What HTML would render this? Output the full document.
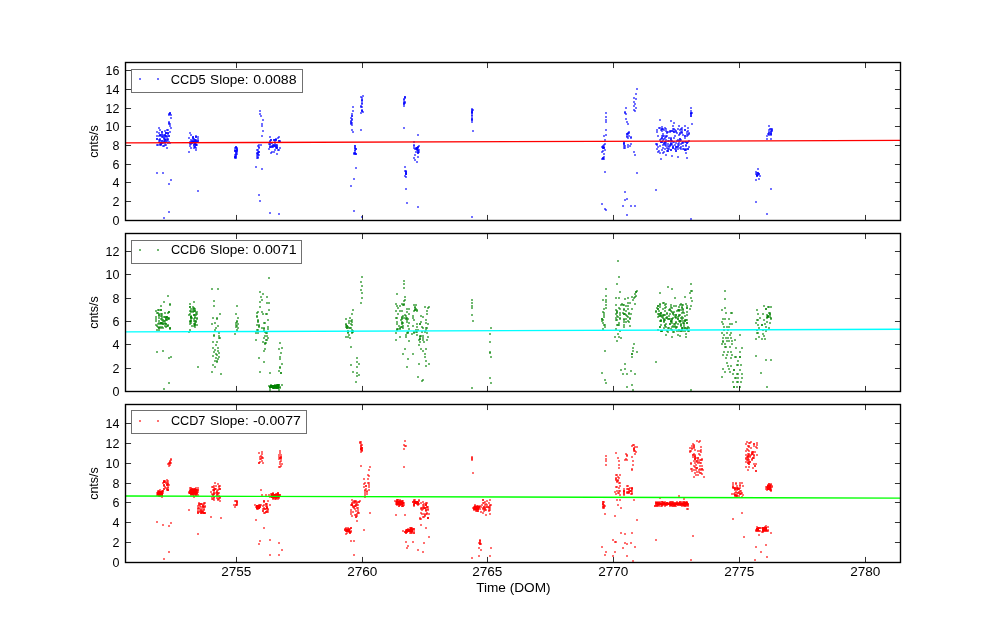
<!DOCTYPE html><html><head><meta charset="utf-8"><style>html,body{margin:0;padding:0;background:#fff;}svg{display:block;will-change:transform}text{font-family:"Liberation Sans",sans-serif;fill:#000}</style></head><body>
<svg width="1000" height="624" viewBox="0 0 1000 624">
<rect x="0" y="0" width="1000" height="624" fill="#fff"/>
<g fill="#0000ff" fill-opacity="0.56"><rect x="169" y="112" width="2" height="2"/><rect x="169" y="113" width="2" height="2"/><rect x="170" y="117" width="2" height="2"/><rect x="168" y="121" width="2" height="2"/><rect x="169" y="123" width="2" height="2"/><rect x="169" y="125" width="2" height="2"/><rect x="170" y="127" width="2" height="2"/><rect x="167" y="129" width="2" height="2"/><rect x="166" y="129" width="2" height="2"/><rect x="158" y="127" width="2" height="2"/><rect x="159" y="129" width="2" height="2"/><rect x="156" y="131" width="2" height="2"/><rect x="161" y="131" width="2" height="2"/><rect x="164" y="130" width="2" height="2"/><rect x="166" y="147" width="2" height="2"/><rect x="159" y="144" width="2" height="2"/><rect x="160" y="143" width="2" height="2"/><rect x="156" y="172" width="2" height="2"/><rect x="162" y="172" width="2" height="2"/><rect x="170" y="179" width="2" height="2"/><rect x="168" y="183" width="2" height="2"/><rect x="197" y="190" width="2" height="2"/><rect x="168" y="211" width="2" height="2"/><rect x="163" y="217" width="2" height="2"/><rect x="189" y="132" width="2" height="2"/><rect x="190" y="134" width="2" height="2"/><rect x="192" y="136" width="2" height="2"/><rect x="195" y="135" width="2" height="2"/><rect x="193" y="147" width="2" height="2"/><rect x="195" y="149" width="2" height="2"/><rect x="188" y="151" width="2" height="2"/><rect x="190" y="147" width="2" height="2"/><rect x="235" y="146" width="2" height="2"/><rect x="236" y="148" width="2" height="2"/><rect x="235" y="150" width="2" height="2"/><rect x="235" y="152" width="2" height="2"/><rect x="235" y="154" width="2" height="2"/><rect x="234" y="157" width="2" height="2"/><rect x="235" y="147" width="2" height="2"/><rect x="236" y="149" width="2" height="2"/><rect x="235" y="151" width="2" height="2"/><rect x="235" y="153" width="2" height="2"/><rect x="235" y="155" width="2" height="2"/><rect x="234" y="156" width="2" height="2"/><rect x="259" y="110" width="2" height="2"/><rect x="259" y="113" width="2" height="2"/><rect x="260" y="115" width="2" height="2"/><rect x="262" y="119" width="2" height="2"/><rect x="261" y="123" width="2" height="2"/><rect x="261" y="125" width="2" height="2"/><rect x="262" y="130" width="2" height="2"/><rect x="261" y="135" width="2" height="2"/><rect x="258" y="144" width="2" height="2"/><rect x="260" y="144" width="2" height="2"/><rect x="257" y="145" width="2" height="2"/><rect x="257" y="149" width="2" height="2"/><rect x="257" y="151" width="2" height="2"/><rect x="256" y="153" width="2" height="2"/><rect x="257" y="154" width="2" height="2"/><rect x="258" y="154" width="2" height="2"/><rect x="257" y="156" width="2" height="2"/><rect x="256" y="157" width="2" height="2"/><rect x="255" y="166" width="2" height="2"/><rect x="261" y="168" width="2" height="2"/><rect x="258" y="194" width="2" height="2"/><rect x="259" y="200" width="2" height="2"/><rect x="269" y="212" width="2" height="2"/><rect x="278" y="213" width="2" height="2"/><rect x="271" y="151" width="2" height="2"/><rect x="276" y="153" width="2" height="2"/><rect x="278" y="149" width="2" height="2"/><rect x="352" y="106" width="2" height="2"/><rect x="352" y="110" width="2" height="2"/><rect x="351" y="113" width="2" height="2"/><rect x="351" y="115" width="2" height="2"/><rect x="351" y="118" width="2" height="2"/><rect x="350" y="120" width="2" height="2"/><rect x="351" y="122" width="2" height="2"/><rect x="351" y="124" width="2" height="2"/><rect x="351" y="129" width="2" height="2"/><rect x="352" y="131" width="2" height="2"/><rect x="362" y="95" width="2" height="2"/><rect x="360" y="96" width="2" height="2"/><rect x="361" y="99" width="2" height="2"/><rect x="361" y="102" width="2" height="2"/><rect x="360" y="106" width="2" height="2"/><rect x="361" y="109" width="2" height="2"/><rect x="362" y="111" width="2" height="2"/><rect x="360" y="112" width="2" height="2"/><rect x="360" y="129" width="2" height="2"/><rect x="354" y="145" width="2" height="2"/><rect x="355" y="148" width="2" height="2"/><rect x="354" y="150" width="2" height="2"/><rect x="353" y="152" width="2" height="2"/><rect x="353" y="153" width="2" height="2"/><rect x="355" y="167" width="2" height="2"/><rect x="353" y="178" width="2" height="2"/><rect x="350" y="185" width="2" height="2"/><rect x="353" y="210" width="2" height="2"/><rect x="361" y="216" width="2" height="2"/><rect x="404" y="96" width="2" height="2"/><rect x="403" y="102" width="2" height="2"/><rect x="403" y="103" width="2" height="2"/><rect x="403" y="105" width="2" height="2"/><rect x="403" y="127" width="2" height="2"/><rect x="417" y="134" width="2" height="2"/><rect x="413" y="141" width="2" height="2"/><rect x="413" y="144" width="2" height="2"/><rect x="414" y="154" width="2" height="2"/><rect x="417" y="156" width="2" height="2"/><rect x="413" y="157" width="2" height="2"/><rect x="414" y="159" width="2" height="2"/><rect x="416" y="161" width="2" height="2"/><rect x="404" y="166" width="2" height="2"/><rect x="405" y="171" width="2" height="2"/><rect x="405" y="173" width="2" height="2"/><rect x="405" y="176" width="2" height="2"/><rect x="404" y="175" width="2" height="2"/><rect x="405" y="188" width="2" height="2"/><rect x="406" y="202" width="2" height="2"/><rect x="417" y="206" width="2" height="2"/><rect x="471" y="108" width="2" height="2"/><rect x="471" y="111" width="2" height="2"/><rect x="471" y="112" width="2" height="2"/><rect x="471" y="115" width="2" height="2"/><rect x="471" y="117" width="2" height="2"/><rect x="471" y="119" width="2" height="2"/><rect x="471" y="121" width="2" height="2"/><rect x="472" y="130" width="2" height="2"/><rect x="471" y="216" width="2" height="2"/><rect x="605" y="112" width="2" height="2"/><rect x="605" y="116" width="2" height="2"/><rect x="605" y="119" width="2" height="2"/><rect x="605" y="121" width="2" height="2"/><rect x="605" y="129" width="2" height="2"/><rect x="605" y="134" width="2" height="2"/><rect x="603" y="135" width="2" height="2"/><rect x="604" y="139" width="2" height="2"/><rect x="603" y="144" width="2" height="2"/><rect x="604" y="143" width="2" height="2"/><rect x="602" y="145" width="2" height="2"/><rect x="603" y="147" width="2" height="2"/><rect x="601" y="151" width="2" height="2"/><rect x="602" y="150" width="2" height="2"/><rect x="603" y="153" width="2" height="2"/><rect x="603" y="156" width="2" height="2"/><rect x="602" y="158" width="2" height="2"/><rect x="601" y="158" width="2" height="2"/><rect x="604" y="171" width="2" height="2"/><rect x="601" y="203" width="2" height="2"/><rect x="604" y="208" width="2" height="2"/><rect x="605" y="209" width="2" height="2"/><rect x="625" y="107" width="2" height="2"/><rect x="624" y="111" width="2" height="2"/><rect x="624" y="112" width="2" height="2"/><rect x="625" y="113" width="2" height="2"/><rect x="625" y="118" width="2" height="2"/><rect x="626" y="121" width="2" height="2"/><rect x="627" y="123" width="2" height="2"/><rect x="623" y="142" width="2" height="2"/><rect x="623" y="143" width="2" height="2"/><rect x="623" y="147" width="2" height="2"/><rect x="627" y="144" width="2" height="2"/><rect x="627" y="146" width="2" height="2"/><rect x="629" y="145" width="2" height="2"/><rect x="630" y="143" width="2" height="2"/><rect x="633" y="151" width="2" height="2"/><rect x="634" y="154" width="2" height="2"/><rect x="636" y="172" width="2" height="2"/><rect x="624" y="191" width="2" height="2"/><rect x="624" y="199" width="2" height="2"/><rect x="626" y="198" width="2" height="2"/><rect x="622" y="205" width="2" height="2"/><rect x="630" y="205" width="2" height="2"/><rect x="634" y="205" width="2" height="2"/><rect x="626" y="214" width="2" height="2"/><rect x="636" y="88" width="2" height="2"/><rect x="635" y="93" width="2" height="2"/><rect x="633" y="97" width="2" height="2"/><rect x="635" y="98" width="2" height="2"/><rect x="633" y="101" width="2" height="2"/><rect x="634" y="103" width="2" height="2"/><rect x="633" y="105" width="2" height="2"/><rect x="635" y="107" width="2" height="2"/><rect x="633" y="109" width="2" height="2"/><rect x="634" y="110" width="2" height="2"/><rect x="659" y="119" width="2" height="2"/><rect x="670" y="120" width="2" height="2"/><rect x="673" y="122" width="2" height="2"/><rect x="672" y="125" width="2" height="2"/><rect x="678" y="125" width="2" height="2"/><rect x="684" y="125" width="2" height="2"/><rect x="660" y="158" width="2" height="2"/><rect x="665" y="154" width="2" height="2"/><rect x="671" y="155" width="2" height="2"/><rect x="677" y="156" width="2" height="2"/><rect x="686" y="157" width="2" height="2"/><rect x="655" y="189" width="2" height="2"/><rect x="690" y="218" width="2" height="2"/><rect x="690" y="107" width="2" height="2"/><rect x="690" y="110" width="2" height="2"/><rect x="691" y="112" width="2" height="2"/><rect x="690" y="115" width="2" height="2"/><rect x="691" y="123" width="2" height="2"/><rect x="768" y="125" width="2" height="2"/><rect x="766" y="135" width="2" height="2"/><rect x="766" y="138" width="2" height="2"/><rect x="770" y="138" width="2" height="2"/><rect x="757" y="168" width="2" height="2"/><rect x="755" y="179" width="2" height="2"/><rect x="758" y="178" width="2" height="2"/><rect x="770" y="188" width="2" height="2"/><rect x="755" y="201" width="2" height="2"/><rect x="766" y="213" width="2" height="2"/><rect x="234" y="150" width="2" height="2"/><rect x="236" y="153" width="2" height="2"/><rect x="236" y="150" width="2" height="2"/><rect x="236" y="151" width="2" height="2"/><rect x="234" y="150" width="2" height="2"/><rect x="234" y="156" width="2" height="2"/><rect x="236" y="149" width="2" height="2"/><rect x="234" y="154" width="2" height="2"/><rect x="234" y="147" width="2" height="2"/><rect x="234" y="149" width="2" height="2"/><rect x="235" y="157" width="2" height="2"/><rect x="234" y="156" width="2" height="2"/><rect x="235" y="156" width="2" height="2"/><rect x="236" y="147" width="2" height="2"/><rect x="235" y="146" width="2" height="2"/><rect x="256" y="149" width="2" height="2"/><rect x="258" y="151" width="2" height="2"/><rect x="256" y="155" width="2" height="2"/><rect x="258" y="147" width="2" height="2"/><rect x="257" y="152" width="2" height="2"/><rect x="258" y="146" width="2" height="2"/><rect x="257" y="157" width="2" height="2"/><rect x="257" y="153" width="2" height="2"/><rect x="258" y="151" width="2" height="2"/><rect x="256" y="152" width="2" height="2"/><rect x="354" y="147" width="2" height="2"/><rect x="355" y="148" width="2" height="2"/><rect x="354" y="152" width="2" height="2"/><rect x="355" y="153" width="2" height="2"/><rect x="354" y="147" width="2" height="2"/><rect x="355" y="153" width="2" height="2"/><rect x="354" y="152" width="2" height="2"/><rect x="354" y="149" width="2" height="2"/><rect x="354" y="145" width="2" height="2"/><rect x="354" y="153" width="2" height="2"/><rect x="403" y="103" width="2" height="2"/><rect x="404" y="97" width="2" height="2"/><rect x="403" y="101" width="2" height="2"/><rect x="403" y="99" width="2" height="2"/><rect x="404" y="102" width="2" height="2"/><rect x="404" y="101" width="2" height="2"/><rect x="404" y="96" width="2" height="2"/><rect x="403" y="98" width="2" height="2"/><rect x="405" y="173" width="2" height="2"/><rect x="404" y="170" width="2" height="2"/><rect x="405" y="170" width="2" height="2"/><rect x="405" y="172" width="2" height="2"/><rect x="405" y="171" width="2" height="2"/><rect x="405" y="173" width="2" height="2"/><rect x="471" y="118" width="2" height="2"/><rect x="472" y="109" width="2" height="2"/><rect x="471" y="111" width="2" height="2"/><rect x="471" y="110" width="2" height="2"/><rect x="471" y="109" width="2" height="2"/><rect x="471" y="119" width="2" height="2"/><rect x="471" y="114" width="2" height="2"/><rect x="471" y="112" width="2" height="2"/><rect x="602" y="146" width="2" height="2"/><rect x="603" y="147" width="2" height="2"/><rect x="601" y="146" width="2" height="2"/><rect x="602" y="157" width="2" height="2"/><rect x="603" y="158" width="2" height="2"/><rect x="602" y="147" width="2" height="2"/><rect x="603" y="146" width="2" height="2"/><rect x="604" y="149" width="2" height="2"/><rect x="602" y="147" width="2" height="2"/><rect x="602" y="157" width="2" height="2"/><rect x="624" y="145" width="2" height="2"/><rect x="623" y="141" width="2" height="2"/><rect x="623" y="143" width="2" height="2"/><rect x="623" y="145" width="2" height="2"/><rect x="624" y="147" width="2" height="2"/><rect x="690" y="112" width="2" height="2"/><rect x="690" y="113" width="2" height="2"/><rect x="690" y="115" width="2" height="2"/><rect x="690" y="112" width="2" height="2"/><rect x="690" y="113" width="2" height="2"/><rect x="350" y="123" width="2" height="2"/><rect x="350" y="121" width="2" height="2"/><rect x="351" y="119" width="2" height="2"/><rect x="350" y="117" width="2" height="2"/><rect x="351" y="115" width="2" height="2"/><rect x="350" y="122" width="2" height="2"/><rect x="361" y="100" width="2" height="2"/><rect x="361" y="106" width="2" height="2"/><rect x="360" y="105" width="2" height="2"/><rect x="361" y="97" width="2" height="2"/><rect x="361" y="110" width="2" height="2"/><rect x="361" y="99" width="2" height="2"/><rect x="361" y="103" width="2" height="2"/><rect x="361" y="110" width="2" height="2"/><rect x="168" y="113" width="2" height="2"/><rect x="169" y="112" width="2" height="2"/><rect x="168" y="114" width="2" height="2"/><rect x="168" y="123" width="2" height="2"/><rect x="168" y="122" width="2" height="2"/><rect x="170" y="114" width="2" height="2"/><rect x="770" y="132" width="2" height="2"/><rect x="768" y="134" width="2" height="2"/><rect x="770" y="130" width="2" height="2"/><rect x="771" y="129" width="2" height="2"/><rect x="770" y="133" width="2" height="2"/><rect x="767" y="133" width="2" height="2"/><rect x="770" y="133" width="2" height="2"/><rect x="768" y="132" width="2" height="2"/><rect x="758" y="173" width="2" height="2"/><rect x="755" y="171" width="2" height="2"/><rect x="757" y="174" width="2" height="2"/><rect x="756" y="174" width="2" height="2"/><rect x="755" y="173" width="2" height="2"/><rect x="757" y="172" width="2" height="2"/><rect x="157" y="144" width="2" height="2"/><rect x="167" y="139" width="2" height="2"/><rect x="156" y="138" width="2" height="2"/><rect x="169" y="142" width="2" height="2"/><rect x="165" y="132" width="2" height="2"/><rect x="164" y="134" width="2" height="2"/><rect x="169" y="131" width="2" height="2"/><rect x="159" y="143" width="2" height="2"/><rect x="158" y="135" width="2" height="2"/><rect x="160" y="143" width="2" height="2"/><rect x="165" y="144" width="2" height="2"/><rect x="158" y="132" width="2" height="2"/><rect x="160" y="142" width="2" height="2"/><rect x="164" y="144" width="2" height="2"/><rect x="165" y="132" width="2" height="2"/><rect x="160" y="134" width="2" height="2"/><rect x="159" y="140" width="2" height="2"/><rect x="162" y="142" width="2" height="2"/><rect x="156" y="144" width="2" height="2"/><rect x="158" y="141" width="2" height="2"/><rect x="167" y="132" width="2" height="2"/><rect x="163" y="145" width="2" height="2"/><rect x="156" y="138" width="2" height="2"/><rect x="162" y="136" width="2" height="2"/><rect x="159" y="134" width="2" height="2"/><rect x="159" y="134" width="2" height="2"/><rect x="160" y="144" width="2" height="2"/><rect x="168" y="135" width="2" height="2"/><rect x="156" y="135" width="2" height="2"/><rect x="167" y="133" width="2" height="2"/><rect x="165" y="132" width="2" height="2"/><rect x="161" y="133" width="2" height="2"/><rect x="164" y="136" width="2" height="2"/><rect x="166" y="138" width="2" height="2"/><rect x="161" y="131" width="2" height="2"/><rect x="167" y="132" width="2" height="2"/><rect x="162" y="145" width="2" height="2"/><rect x="166" y="136" width="2" height="2"/><rect x="168" y="135" width="2" height="2"/><rect x="164" y="139" width="2" height="2"/><rect x="165" y="135" width="2" height="2"/><rect x="161" y="136" width="2" height="2"/><rect x="168" y="141" width="2" height="2"/><rect x="160" y="142" width="2" height="2"/><rect x="164" y="134" width="2" height="2"/><rect x="162" y="135" width="2" height="2"/><rect x="160" y="135" width="2" height="2"/><rect x="159" y="139" width="2" height="2"/><rect x="165" y="141" width="2" height="2"/><rect x="160" y="142" width="2" height="2"/><rect x="161" y="140" width="2" height="2"/><rect x="163" y="138" width="2" height="2"/><rect x="164" y="141" width="2" height="2"/><rect x="164" y="138" width="2" height="2"/><rect x="166" y="140" width="2" height="2"/><rect x="161" y="142" width="2" height="2"/><rect x="162" y="134" width="2" height="2"/><rect x="167" y="142" width="2" height="2"/><rect x="163" y="140" width="2" height="2"/><rect x="164" y="135" width="2" height="2"/><rect x="165" y="139" width="2" height="2"/><rect x="167" y="138" width="2" height="2"/><rect x="161" y="140" width="2" height="2"/><rect x="163" y="141" width="2" height="2"/><rect x="158" y="139" width="2" height="2"/><rect x="166" y="135" width="2" height="2"/><rect x="159" y="138" width="2" height="2"/><rect x="164" y="139" width="2" height="2"/><rect x="163" y="137" width="2" height="2"/><rect x="164" y="142" width="2" height="2"/><rect x="193" y="140" width="2" height="2"/><rect x="197" y="138" width="2" height="2"/><rect x="193" y="145" width="2" height="2"/><rect x="195" y="144" width="2" height="2"/><rect x="194" y="141" width="2" height="2"/><rect x="197" y="136" width="2" height="2"/><rect x="192" y="141" width="2" height="2"/><rect x="194" y="139" width="2" height="2"/><rect x="190" y="141" width="2" height="2"/><rect x="194" y="142" width="2" height="2"/><rect x="196" y="141" width="2" height="2"/><rect x="190" y="143" width="2" height="2"/><rect x="192" y="136" width="2" height="2"/><rect x="192" y="137" width="2" height="2"/><rect x="194" y="146" width="2" height="2"/><rect x="195" y="147" width="2" height="2"/><rect x="189" y="145" width="2" height="2"/><rect x="195" y="139" width="2" height="2"/><rect x="192" y="138" width="2" height="2"/><rect x="191" y="142" width="2" height="2"/><rect x="191" y="140" width="2" height="2"/><rect x="194" y="143" width="2" height="2"/><rect x="189" y="142" width="2" height="2"/><rect x="195" y="136" width="2" height="2"/><rect x="195" y="136" width="2" height="2"/><rect x="192" y="140" width="2" height="2"/><rect x="188" y="137" width="2" height="2"/><rect x="194" y="139" width="2" height="2"/><rect x="193" y="138" width="2" height="2"/><rect x="194" y="146" width="2" height="2"/><rect x="195" y="140" width="2" height="2"/><rect x="197" y="140" width="2" height="2"/><rect x="191" y="141" width="2" height="2"/><rect x="197" y="140" width="2" height="2"/><rect x="191" y="142" width="2" height="2"/><rect x="193" y="143" width="2" height="2"/><rect x="194" y="143" width="2" height="2"/><rect x="192" y="141" width="2" height="2"/><rect x="196" y="141" width="2" height="2"/><rect x="194" y="141" width="2" height="2"/><rect x="189" y="141" width="2" height="2"/><rect x="193" y="141" width="2" height="2"/><rect x="190" y="139" width="2" height="2"/><rect x="189" y="143" width="2" height="2"/><rect x="193" y="144" width="2" height="2"/><rect x="195" y="143" width="2" height="2"/><rect x="195" y="144" width="2" height="2"/><rect x="195" y="144" width="2" height="2"/><rect x="195" y="140" width="2" height="2"/><rect x="196" y="144" width="2" height="2"/><rect x="277" y="149" width="2" height="2"/><rect x="276" y="145" width="2" height="2"/><rect x="273" y="151" width="2" height="2"/><rect x="270" y="146" width="2" height="2"/><rect x="278" y="140" width="2" height="2"/><rect x="269" y="140" width="2" height="2"/><rect x="272" y="144" width="2" height="2"/><rect x="270" y="139" width="2" height="2"/><rect x="269" y="143" width="2" height="2"/><rect x="269" y="141" width="2" height="2"/><rect x="269" y="146" width="2" height="2"/><rect x="274" y="139" width="2" height="2"/><rect x="279" y="140" width="2" height="2"/><rect x="278" y="140" width="2" height="2"/><rect x="274" y="145" width="2" height="2"/><rect x="274" y="141" width="2" height="2"/><rect x="276" y="146" width="2" height="2"/><rect x="274" y="143" width="2" height="2"/><rect x="270" y="142" width="2" height="2"/><rect x="276" y="147" width="2" height="2"/><rect x="279" y="147" width="2" height="2"/><rect x="279" y="141" width="2" height="2"/><rect x="270" y="152" width="2" height="2"/><rect x="272" y="145" width="2" height="2"/><rect x="277" y="137" width="2" height="2"/><rect x="268" y="143" width="2" height="2"/><rect x="269" y="136" width="2" height="2"/><rect x="276" y="144" width="2" height="2"/><rect x="272" y="146" width="2" height="2"/><rect x="271" y="142" width="2" height="2"/><rect x="271" y="146" width="2" height="2"/><rect x="273" y="145" width="2" height="2"/><rect x="274" y="145" width="2" height="2"/><rect x="268" y="148" width="2" height="2"/><rect x="278" y="136" width="2" height="2"/><rect x="275" y="144" width="2" height="2"/><rect x="275" y="138" width="2" height="2"/><rect x="269" y="144" width="2" height="2"/><rect x="273" y="139" width="2" height="2"/><rect x="275" y="139" width="2" height="2"/><rect x="276" y="147" width="2" height="2"/><rect x="275" y="147" width="2" height="2"/><rect x="271" y="145" width="2" height="2"/><rect x="269" y="146" width="2" height="2"/><rect x="270" y="139" width="2" height="2"/><rect x="275" y="139" width="2" height="2"/><rect x="274" y="149" width="2" height="2"/><rect x="273" y="144" width="2" height="2"/><rect x="275" y="146" width="2" height="2"/><rect x="273" y="139" width="2" height="2"/><rect x="630" y="136" width="2" height="2"/><rect x="628" y="135" width="2" height="2"/><rect x="627" y="132" width="2" height="2"/><rect x="626" y="133" width="2" height="2"/><rect x="628" y="131" width="2" height="2"/><rect x="627" y="133" width="2" height="2"/><rect x="626" y="136" width="2" height="2"/><rect x="627" y="137" width="2" height="2"/><rect x="628" y="132" width="2" height="2"/><rect x="626" y="135" width="2" height="2"/><rect x="626" y="133" width="2" height="2"/><rect x="630" y="137" width="2" height="2"/><rect x="678" y="142" width="2" height="2"/><rect x="675" y="146" width="2" height="2"/><rect x="684" y="129" width="2" height="2"/><rect x="685" y="152" width="2" height="2"/><rect x="674" y="135" width="2" height="2"/><rect x="657" y="135" width="2" height="2"/><rect x="656" y="144" width="2" height="2"/><rect x="675" y="146" width="2" height="2"/><rect x="684" y="135" width="2" height="2"/><rect x="680" y="146" width="2" height="2"/><rect x="673" y="128" width="2" height="2"/><rect x="684" y="141" width="2" height="2"/><rect x="670" y="149" width="2" height="2"/><rect x="659" y="127" width="2" height="2"/><rect x="677" y="145" width="2" height="2"/><rect x="672" y="141" width="2" height="2"/><rect x="680" y="148" width="2" height="2"/><rect x="676" y="146" width="2" height="2"/><rect x="672" y="130" width="2" height="2"/><rect x="681" y="127" width="2" height="2"/><rect x="661" y="141" width="2" height="2"/><rect x="667" y="150" width="2" height="2"/><rect x="665" y="139" width="2" height="2"/><rect x="661" y="149" width="2" height="2"/><rect x="667" y="145" width="2" height="2"/><rect x="679" y="138" width="2" height="2"/><rect x="659" y="152" width="2" height="2"/><rect x="656" y="148" width="2" height="2"/><rect x="660" y="138" width="2" height="2"/><rect x="670" y="137" width="2" height="2"/><rect x="674" y="144" width="2" height="2"/><rect x="677" y="128" width="2" height="2"/><rect x="667" y="131" width="2" height="2"/><rect x="687" y="141" width="2" height="2"/><rect x="688" y="132" width="2" height="2"/><rect x="678" y="140" width="2" height="2"/><rect x="666" y="131" width="2" height="2"/><rect x="675" y="150" width="2" height="2"/><rect x="671" y="140" width="2" height="2"/><rect x="686" y="133" width="2" height="2"/><rect x="667" y="150" width="2" height="2"/><rect x="658" y="127" width="2" height="2"/><rect x="677" y="139" width="2" height="2"/><rect x="685" y="141" width="2" height="2"/><rect x="664" y="144" width="2" height="2"/><rect x="670" y="143" width="2" height="2"/><rect x="662" y="128" width="2" height="2"/><rect x="685" y="149" width="2" height="2"/><rect x="660" y="129" width="2" height="2"/><rect x="682" y="145" width="2" height="2"/><rect x="670" y="149" width="2" height="2"/><rect x="682" y="148" width="2" height="2"/><rect x="685" y="148" width="2" height="2"/><rect x="655" y="143" width="2" height="2"/><rect x="658" y="150" width="2" height="2"/><rect x="682" y="142" width="2" height="2"/><rect x="669" y="145" width="2" height="2"/><rect x="665" y="145" width="2" height="2"/><rect x="687" y="127" width="2" height="2"/><rect x="668" y="148" width="2" height="2"/><rect x="661" y="135" width="2" height="2"/><rect x="682" y="141" width="2" height="2"/><rect x="664" y="137" width="2" height="2"/><rect x="667" y="140" width="2" height="2"/><rect x="688" y="133" width="2" height="2"/><rect x="666" y="150" width="2" height="2"/><rect x="671" y="143" width="2" height="2"/><rect x="684" y="129" width="2" height="2"/><rect x="661" y="130" width="2" height="2"/><rect x="661" y="128" width="2" height="2"/><rect x="663" y="151" width="2" height="2"/><rect x="685" y="145" width="2" height="2"/><rect x="672" y="146" width="2" height="2"/><rect x="687" y="134" width="2" height="2"/><rect x="679" y="129" width="2" height="2"/><rect x="668" y="140" width="2" height="2"/><rect x="676" y="132" width="2" height="2"/><rect x="669" y="131" width="2" height="2"/><rect x="667" y="148" width="2" height="2"/><rect x="663" y="135" width="2" height="2"/><rect x="675" y="131" width="2" height="2"/><rect x="684" y="135" width="2" height="2"/><rect x="665" y="135" width="2" height="2"/><rect x="670" y="138" width="2" height="2"/><rect x="668" y="137" width="2" height="2"/><rect x="661" y="128" width="2" height="2"/><rect x="684" y="149" width="2" height="2"/><rect x="680" y="139" width="2" height="2"/><rect x="687" y="130" width="2" height="2"/><rect x="657" y="151" width="2" height="2"/><rect x="673" y="141" width="2" height="2"/><rect x="672" y="145" width="2" height="2"/><rect x="677" y="146" width="2" height="2"/><rect x="672" y="147" width="2" height="2"/><rect x="677" y="148" width="2" height="2"/><rect x="681" y="129" width="2" height="2"/><rect x="670" y="144" width="2" height="2"/><rect x="679" y="138" width="2" height="2"/><rect x="675" y="150" width="2" height="2"/><rect x="662" y="133" width="2" height="2"/><rect x="665" y="130" width="2" height="2"/><rect x="675" y="142" width="2" height="2"/><rect x="688" y="140" width="2" height="2"/><rect x="663" y="129" width="2" height="2"/><rect x="675" y="130" width="2" height="2"/><rect x="659" y="139" width="2" height="2"/><rect x="682" y="134" width="2" height="2"/><rect x="664" y="127" width="2" height="2"/><rect x="687" y="148" width="2" height="2"/><rect x="672" y="128" width="2" height="2"/><rect x="686" y="142" width="2" height="2"/><rect x="678" y="144" width="2" height="2"/><rect x="673" y="137" width="2" height="2"/><rect x="680" y="128" width="2" height="2"/><rect x="664" y="141" width="2" height="2"/><rect x="670" y="140" width="2" height="2"/><rect x="674" y="129" width="2" height="2"/><rect x="661" y="126" width="2" height="2"/><rect x="677" y="143" width="2" height="2"/><rect x="656" y="131" width="2" height="2"/><rect x="666" y="147" width="2" height="2"/><rect x="680" y="131" width="2" height="2"/><rect x="670" y="142" width="2" height="2"/><rect x="681" y="131" width="2" height="2"/><rect x="662" y="147" width="2" height="2"/><rect x="678" y="134" width="2" height="2"/><rect x="663" y="138" width="2" height="2"/><rect x="656" y="143" width="2" height="2"/><rect x="681" y="132" width="2" height="2"/><rect x="684" y="149" width="2" height="2"/><rect x="657" y="146" width="2" height="2"/><rect x="681" y="142" width="2" height="2"/><rect x="662" y="139" width="2" height="2"/><rect x="686" y="142" width="2" height="2"/><rect x="687" y="148" width="2" height="2"/><rect x="675" y="148" width="2" height="2"/><rect x="671" y="130" width="2" height="2"/><rect x="673" y="131" width="2" height="2"/><rect x="665" y="128" width="2" height="2"/><rect x="672" y="147" width="2" height="2"/><rect x="688" y="146" width="2" height="2"/><rect x="679" y="147" width="2" height="2"/><rect x="663" y="143" width="2" height="2"/><rect x="685" y="144" width="2" height="2"/><rect x="668" y="146" width="2" height="2"/><rect x="684" y="137" width="2" height="2"/><rect x="662" y="135" width="2" height="2"/><rect x="679" y="132" width="2" height="2"/><rect x="662" y="152" width="2" height="2"/><rect x="656" y="129" width="2" height="2"/><rect x="680" y="143" width="2" height="2"/><rect x="683" y="148" width="2" height="2"/><rect x="662" y="144" width="2" height="2"/><rect x="665" y="143" width="2" height="2"/><rect x="659" y="145" width="2" height="2"/><rect x="663" y="142" width="2" height="2"/><rect x="670" y="143" width="2" height="2"/><rect x="669" y="130" width="2" height="2"/><rect x="666" y="135" width="2" height="2"/><rect x="686" y="131" width="2" height="2"/><rect x="679" y="133" width="2" height="2"/><rect x="667" y="143" width="2" height="2"/><rect x="673" y="131" width="2" height="2"/><rect x="665" y="136" width="2" height="2"/><rect x="676" y="140" width="2" height="2"/><rect x="670" y="130" width="2" height="2"/><rect x="670" y="139" width="2" height="2"/><rect x="661" y="141" width="2" height="2"/><rect x="661" y="137" width="2" height="2"/><rect x="661" y="137" width="2" height="2"/><rect x="660" y="141" width="2" height="2"/><rect x="674" y="148" width="2" height="2"/><rect x="666" y="132" width="2" height="2"/><rect x="669" y="144" width="2" height="2"/><rect x="664" y="148" width="2" height="2"/><rect x="664" y="142" width="2" height="2"/><rect x="660" y="141" width="2" height="2"/><rect x="679" y="140" width="2" height="2"/><rect x="665" y="141" width="2" height="2"/><rect x="686" y="135" width="2" height="2"/><rect x="770" y="131" width="2" height="2"/><rect x="771" y="130" width="2" height="2"/><rect x="770" y="128" width="2" height="2"/><rect x="771" y="128" width="2" height="2"/><rect x="768" y="129" width="2" height="2"/><rect x="768" y="133" width="2" height="2"/><rect x="768" y="131" width="2" height="2"/><rect x="769" y="128" width="2" height="2"/><rect x="770" y="134" width="2" height="2"/><rect x="757" y="172" width="2" height="2"/><rect x="756" y="174" width="2" height="2"/><rect x="759" y="175" width="2" height="2"/><rect x="756" y="172" width="2" height="2"/><rect x="758" y="173" width="2" height="2"/><rect x="756" y="175" width="2" height="2"/><rect x="756" y="175" width="2" height="2"/><rect x="417" y="151" width="2" height="2"/><rect x="414" y="148" width="2" height="2"/><rect x="417" y="147" width="2" height="2"/><rect x="413" y="145" width="2" height="2"/><rect x="416" y="148" width="2" height="2"/><rect x="417" y="152" width="2" height="2"/><rect x="416" y="148" width="2" height="2"/><rect x="417" y="150" width="2" height="2"/><rect x="413" y="147" width="2" height="2"/><rect x="416" y="147" width="2" height="2"/><rect x="418" y="145" width="2" height="2"/><rect x="417" y="152" width="2" height="2"/><rect x="415" y="148" width="2" height="2"/><rect x="416" y="147" width="2" height="2"/><rect x="418" y="149" width="2" height="2"/><rect x="416" y="147" width="2" height="2"/><rect x="416" y="149" width="2" height="2"/><rect x="417" y="149" width="2" height="2"/><rect x="417" y="146" width="2" height="2"/><rect x="416" y="147" width="2" height="2"/><rect x="417" y="146" width="2" height="2"/><rect x="415" y="147" width="2" height="2"/><rect x="415" y="151" width="2" height="2"/><rect x="418" y="151" width="2" height="2"/></g>
<line x1="125" y1="142.9" x2="900" y2="140.4" stroke="#ff0000" stroke-width="1.39"/>
<path d="M125.5 220.5h5.56M900.5 220.5h-5.56M125.5 201.5h5.56M900.5 201.5h-5.56M125.5 182.5h5.56M900.5 182.5h-5.56M125.5 164.5h5.56M900.5 164.5h-5.56M125.5 145.5h5.56M900.5 145.5h-5.56M125.5 126.5h5.56M900.5 126.5h-5.56M125.5 108.5h5.56M900.5 108.5h-5.56M125.5 89.5h5.56M900.5 89.5h-5.56M125.5 70.5h5.56M900.5 70.5h-5.56M236.5 220.5v-5.56M236.5 62.5v5.56M362.5 220.5v-5.56M362.5 62.5v5.56M487.5 220.5v-5.56M487.5 62.5v5.56M613.5 220.5v-5.56M613.5 62.5v5.56M739.5 220.5v-5.56M739.5 62.5v5.56M865.5 220.5v-5.56M865.5 62.5v5.56" stroke="#000" stroke-width="0.8" fill="none"/>
<rect x="125.5" y="62.5" width="775.0" height="158.0" fill="none" stroke="#000" stroke-width="1.39"/>
<text x="119.4" y="225.0" font-size="12.5" text-anchor="end">0</text>
<text x="119.4" y="206.0" font-size="12.5" text-anchor="end">2</text>
<text x="119.4" y="187.0" font-size="12.5" text-anchor="end">4</text>
<text x="119.4" y="169.0" font-size="12.5" text-anchor="end">6</text>
<text x="119.4" y="150.0" font-size="12.5" text-anchor="end">8</text>
<text x="119.4" y="131.0" font-size="12.5" text-anchor="end">10</text>
<text x="119.4" y="113.0" font-size="12.5" text-anchor="end">12</text>
<text x="119.4" y="94.0" font-size="12.5" text-anchor="end">14</text>
<text x="119.4" y="75.0" font-size="12.5" text-anchor="end">16</text>
<text transform="translate(97.8 141.5) rotate(-90)" font-size="12.5" text-anchor="middle">cnts/s</text>
<rect x="131.5" y="69.5" width="171.0" height="23.0" fill="#fff" stroke="#707070" stroke-width="1"/>
<rect x="139" y="78" width="2" height="2" fill="#0000ff" fill-opacity="0.56"/><rect x="157" y="78" width="2" height="2" fill="#0000ff" fill-opacity="0.56"/>
<text x="170.8" y="84.2" font-size="12.5" textLength="34.9" lengthAdjust="spacingAndGlyphs">CCD5</text>
<text x="210.1" y="84.2" font-size="12.5" textLength="38.5" lengthAdjust="spacingAndGlyphs">Slope:</text>
<text x="253.3" y="84.2" font-size="12.5" textLength="43.3" lengthAdjust="spacingAndGlyphs">0.0088</text>
<g fill="#008000" fill-opacity="0.56"><rect x="270" y="385" width="9" height="3" fill-opacity="1"/><rect x="167" y="295" width="2" height="2"/><rect x="163" y="301" width="2" height="2"/><rect x="160" y="305" width="2" height="2"/><rect x="169" y="304" width="2" height="2"/><rect x="169" y="303" width="2" height="2"/><rect x="156" y="351" width="2" height="2"/><rect x="162" y="350" width="2" height="2"/><rect x="168" y="357" width="2" height="2"/><rect x="170" y="356" width="2" height="2"/><rect x="197" y="366" width="2" height="2"/><rect x="168" y="382" width="2" height="2"/><rect x="163" y="388" width="2" height="2"/><rect x="189" y="303" width="2" height="2"/><rect x="193" y="301" width="2" height="2"/><rect x="193" y="307" width="2" height="2"/><rect x="189" y="329" width="2" height="2"/><rect x="188" y="331" width="2" height="2"/><rect x="211" y="288" width="2" height="2"/><rect x="217" y="288" width="2" height="2"/><rect x="213" y="300" width="2" height="2"/><rect x="213" y="305" width="2" height="2"/><rect x="219" y="313" width="2" height="2"/><rect x="212" y="317" width="2" height="2"/><rect x="216" y="318" width="2" height="2"/><rect x="216" y="317" width="2" height="2"/><rect x="211" y="323" width="2" height="2"/><rect x="214" y="322" width="2" height="2"/><rect x="217" y="325" width="2" height="2"/><rect x="215" y="327" width="2" height="2"/><rect x="214" y="329" width="2" height="2"/><rect x="218" y="332" width="2" height="2"/><rect x="213" y="334" width="2" height="2"/><rect x="213" y="335" width="2" height="2"/><rect x="218" y="335" width="2" height="2"/><rect x="218" y="337" width="2" height="2"/><rect x="219" y="337" width="2" height="2"/><rect x="212" y="341" width="2" height="2"/><rect x="216" y="341" width="2" height="2"/><rect x="212" y="347" width="2" height="2"/><rect x="215" y="344" width="2" height="2"/><rect x="217" y="347" width="2" height="2"/><rect x="214" y="349" width="2" height="2"/><rect x="218" y="352" width="2" height="2"/><rect x="216" y="354" width="2" height="2"/><rect x="218" y="356" width="2" height="2"/><rect x="215" y="357" width="2" height="2"/><rect x="216" y="360" width="2" height="2"/><rect x="216" y="361" width="2" height="2"/><rect x="212" y="364" width="2" height="2"/><rect x="214" y="366" width="2" height="2"/><rect x="211" y="371" width="2" height="2"/><rect x="220" y="373" width="2" height="2"/><rect x="213" y="351" width="2" height="2"/><rect x="217" y="350" width="2" height="2"/><rect x="215" y="353" width="2" height="2"/><rect x="212" y="355" width="2" height="2"/><rect x="217" y="358" width="2" height="2"/><rect x="214" y="360" width="2" height="2"/><rect x="236" y="305" width="2" height="2"/><rect x="235" y="313" width="2" height="2"/><rect x="237" y="317" width="2" height="2"/><rect x="236" y="329" width="2" height="2"/><rect x="234" y="333" width="2" height="2"/><rect x="236" y="320" width="2" height="2"/><rect x="235" y="322" width="2" height="2"/><rect x="237" y="323" width="2" height="2"/><rect x="236" y="325" width="2" height="2"/><rect x="235" y="326" width="2" height="2"/><rect x="237" y="327" width="2" height="2"/><rect x="236" y="321" width="2" height="2"/><rect x="235" y="324" width="2" height="2"/><rect x="268" y="277" width="2" height="2"/><rect x="259" y="291" width="2" height="2"/><rect x="262" y="293" width="2" height="2"/><rect x="260" y="296" width="2" height="2"/><rect x="266" y="296" width="2" height="2"/><rect x="261" y="299" width="2" height="2"/><rect x="259" y="301" width="2" height="2"/><rect x="266" y="302" width="2" height="2"/><rect x="268" y="302" width="2" height="2"/><rect x="259" y="306" width="2" height="2"/><rect x="268" y="309" width="2" height="2"/><rect x="257" y="311" width="2" height="2"/><rect x="261" y="311" width="2" height="2"/><rect x="262" y="313" width="2" height="2"/><rect x="266" y="313" width="2" height="2"/><rect x="256" y="315" width="2" height="2"/><rect x="257" y="319" width="2" height="2"/><rect x="267" y="319" width="2" height="2"/><rect x="257" y="321" width="2" height="2"/><rect x="264" y="322" width="2" height="2"/><rect x="256" y="324" width="2" height="2"/><rect x="258" y="325" width="2" height="2"/><rect x="261" y="327" width="2" height="2"/><rect x="267" y="326" width="2" height="2"/><rect x="263" y="327" width="2" height="2"/><rect x="256" y="329" width="2" height="2"/><rect x="263" y="330" width="2" height="2"/><rect x="257" y="332" width="2" height="2"/><rect x="265" y="332" width="2" height="2"/><rect x="264" y="335" width="2" height="2"/><rect x="267" y="337" width="2" height="2"/><rect x="255" y="339" width="2" height="2"/><rect x="266" y="339" width="2" height="2"/><rect x="264" y="342" width="2" height="2"/><rect x="256" y="312" width="2" height="2"/><rect x="265" y="313" width="2" height="2"/><rect x="256" y="316" width="2" height="2"/><rect x="257" y="320" width="2" height="2"/><rect x="258" y="324" width="2" height="2"/><rect x="263" y="322" width="2" height="2"/><rect x="258" y="326" width="2" height="2"/><rect x="263" y="328" width="2" height="2"/><rect x="267" y="328" width="2" height="2"/><rect x="257" y="329" width="2" height="2"/><rect x="264" y="331" width="2" height="2"/><rect x="255" y="332" width="2" height="2"/><rect x="266" y="332" width="2" height="2"/><rect x="266" y="335" width="2" height="2"/><rect x="263" y="337" width="2" height="2"/><rect x="265" y="339" width="2" height="2"/><rect x="262" y="341" width="2" height="2"/><rect x="265" y="342" width="2" height="2"/><rect x="264" y="343" width="2" height="2"/><rect x="264" y="348" width="2" height="2"/><rect x="263" y="350" width="2" height="2"/><rect x="258" y="357" width="2" height="2"/><rect x="263" y="361" width="2" height="2"/><rect x="259" y="371" width="2" height="2"/><rect x="269" y="372" width="2" height="2"/><rect x="279" y="342" width="2" height="2"/><rect x="278" y="348" width="2" height="2"/><rect x="281" y="347" width="2" height="2"/><rect x="280" y="352" width="2" height="2"/><rect x="279" y="356" width="2" height="2"/><rect x="279" y="358" width="2" height="2"/><rect x="281" y="363" width="2" height="2"/><rect x="279" y="366" width="2" height="2"/><rect x="279" y="367" width="2" height="2"/><rect x="278" y="370" width="2" height="2"/><rect x="280" y="372" width="2" height="2"/><rect x="280" y="372" width="2" height="2"/><rect x="281" y="384" width="2" height="2"/><rect x="269" y="389" width="2" height="2"/><rect x="278" y="389" width="2" height="2"/><rect x="352" y="309" width="2" height="2"/><rect x="351" y="313" width="2" height="2"/><rect x="349" y="317" width="2" height="2"/><rect x="345" y="318" width="2" height="2"/><rect x="348" y="320" width="2" height="2"/><rect x="351" y="319" width="2" height="2"/><rect x="347" y="336" width="2" height="2"/><rect x="349" y="337" width="2" height="2"/><rect x="345" y="336" width="2" height="2"/><rect x="361" y="276" width="2" height="2"/><rect x="360" y="281" width="2" height="2"/><rect x="361" y="285" width="2" height="2"/><rect x="360" y="289" width="2" height="2"/><rect x="361" y="292" width="2" height="2"/><rect x="361" y="297" width="2" height="2"/><rect x="360" y="302" width="2" height="2"/><rect x="350" y="346" width="2" height="2"/><rect x="356" y="357" width="2" height="2"/><rect x="350" y="364" width="2" height="2"/><rect x="356" y="361" width="2" height="2"/><rect x="358" y="363" width="2" height="2"/><rect x="356" y="366" width="2" height="2"/><rect x="352" y="371" width="2" height="2"/><rect x="356" y="372" width="2" height="2"/><rect x="356" y="375" width="2" height="2"/><rect x="358" y="374" width="2" height="2"/><rect x="355" y="381" width="2" height="2"/><rect x="403" y="280" width="2" height="2"/><rect x="403" y="283" width="2" height="2"/><rect x="403" y="287" width="2" height="2"/><rect x="404" y="296" width="2" height="2"/><rect x="404" y="299" width="2" height="2"/><rect x="403" y="300" width="2" height="2"/><rect x="396" y="293" width="2" height="2"/><rect x="403" y="303" width="2" height="2"/><rect x="428" y="306" width="2" height="2"/><rect x="426" y="313" width="2" height="2"/><rect x="425" y="319" width="2" height="2"/><rect x="427" y="323" width="2" height="2"/><rect x="419" y="323" width="2" height="2"/><rect x="422" y="327" width="2" height="2"/><rect x="426" y="327" width="2" height="2"/><rect x="424" y="331" width="2" height="2"/><rect x="426" y="332" width="2" height="2"/><rect x="420" y="335" width="2" height="2"/><rect x="422" y="337" width="2" height="2"/><rect x="427" y="336" width="2" height="2"/><rect x="418" y="339" width="2" height="2"/><rect x="423" y="341" width="2" height="2"/><rect x="395" y="332" width="2" height="2"/><rect x="395" y="339" width="2" height="2"/><rect x="399" y="336" width="2" height="2"/><rect x="405" y="336" width="2" height="2"/><rect x="408" y="340" width="2" height="2"/><rect x="411" y="333" width="2" height="2"/><rect x="405" y="334" width="2" height="2"/><rect x="404" y="348" width="2" height="2"/><rect x="402" y="353" width="2" height="2"/><rect x="412" y="353" width="2" height="2"/><rect x="407" y="358" width="2" height="2"/><rect x="406" y="366" width="2" height="2"/><rect x="419" y="338" width="2" height="2"/><rect x="422" y="339" width="2" height="2"/><rect x="426" y="339" width="2" height="2"/><rect x="418" y="344" width="2" height="2"/><rect x="420" y="348" width="2" height="2"/><rect x="425" y="348" width="2" height="2"/><rect x="422" y="350" width="2" height="2"/><rect x="424" y="353" width="2" height="2"/><rect x="424" y="356" width="2" height="2"/><rect x="425" y="360" width="2" height="2"/><rect x="418" y="363" width="2" height="2"/><rect x="425" y="365" width="2" height="2"/><rect x="428" y="363" width="2" height="2"/><rect x="417" y="376" width="2" height="2"/><rect x="422" y="379" width="2" height="2"/><rect x="421" y="380" width="2" height="2"/><rect x="471" y="299" width="2" height="2"/><rect x="471" y="302" width="2" height="2"/><rect x="471" y="305" width="2" height="2"/><rect x="471" y="307" width="2" height="2"/><rect x="471" y="314" width="2" height="2"/><rect x="472" y="320" width="2" height="2"/><rect x="471" y="387" width="2" height="2"/><rect x="490" y="327" width="2" height="2"/><rect x="489" y="333" width="2" height="2"/><rect x="489" y="341" width="2" height="2"/><rect x="489" y="351" width="2" height="2"/><rect x="489" y="352" width="2" height="2"/><rect x="490" y="356" width="2" height="2"/><rect x="489" y="377" width="2" height="2"/><rect x="490" y="382" width="2" height="2"/><rect x="605" y="288" width="2" height="2"/><rect x="605" y="295" width="2" height="2"/><rect x="602" y="299" width="2" height="2"/><rect x="605" y="299" width="2" height="2"/><rect x="605" y="301" width="2" height="2"/><rect x="605" y="304" width="2" height="2"/><rect x="605" y="307" width="2" height="2"/><rect x="603" y="308" width="2" height="2"/><rect x="602" y="311" width="2" height="2"/><rect x="603" y="314" width="2" height="2"/><rect x="603" y="316" width="2" height="2"/><rect x="601" y="318" width="2" height="2"/><rect x="601" y="320" width="2" height="2"/><rect x="602" y="322" width="2" height="2"/><rect x="603" y="324" width="2" height="2"/><rect x="604" y="326" width="2" height="2"/><rect x="603" y="312" width="2" height="2"/><rect x="601" y="318" width="2" height="2"/><rect x="602" y="319" width="2" height="2"/><rect x="604" y="324" width="2" height="2"/><rect x="602" y="328" width="2" height="2"/><rect x="604" y="350" width="2" height="2"/><rect x="601" y="372" width="2" height="2"/><rect x="604" y="379" width="2" height="2"/><rect x="605" y="382" width="2" height="2"/><rect x="617" y="260" width="2" height="2"/><rect x="618" y="276" width="2" height="2"/><rect x="616" y="283" width="2" height="2"/><rect x="619" y="291" width="2" height="2"/><rect x="615" y="297" width="2" height="2"/><rect x="618" y="297" width="2" height="2"/><rect x="615" y="304" width="2" height="2"/><rect x="618" y="307" width="2" height="2"/><rect x="615" y="309" width="2" height="2"/><rect x="619" y="312" width="2" height="2"/><rect x="616" y="315" width="2" height="2"/><rect x="619" y="318" width="2" height="2"/><rect x="615" y="319" width="2" height="2"/><rect x="616" y="324" width="2" height="2"/><rect x="618" y="324" width="2" height="2"/><rect x="616" y="312" width="2" height="2"/><rect x="619" y="314" width="2" height="2"/><rect x="615" y="317" width="2" height="2"/><rect x="619" y="317" width="2" height="2"/><rect x="616" y="319" width="2" height="2"/><rect x="619" y="330" width="2" height="2"/><rect x="617" y="333" width="2" height="2"/><rect x="614" y="336" width="2" height="2"/><rect x="618" y="336" width="2" height="2"/><rect x="620" y="337" width="2" height="2"/><rect x="616" y="340" width="2" height="2"/><rect x="624" y="298" width="2" height="2"/><rect x="627" y="297" width="2" height="2"/><rect x="631" y="296" width="2" height="2"/><rect x="629" y="302" width="2" height="2"/><rect x="634" y="303" width="2" height="2"/><rect x="625" y="305" width="2" height="2"/><rect x="627" y="308" width="2" height="2"/><rect x="623" y="309" width="2" height="2"/><rect x="628" y="312" width="2" height="2"/><rect x="626" y="315" width="2" height="2"/><rect x="623" y="318" width="2" height="2"/><rect x="623" y="319" width="2" height="2"/><rect x="629" y="317" width="2" height="2"/><rect x="623" y="326" width="2" height="2"/><rect x="629" y="325" width="2" height="2"/><rect x="635" y="291" width="2" height="2"/><rect x="634" y="293" width="2" height="2"/><rect x="635" y="295" width="2" height="2"/><rect x="633" y="297" width="2" height="2"/><rect x="636" y="290" width="2" height="2"/><rect x="632" y="299" width="2" height="2"/><rect x="635" y="291" width="2" height="2"/><rect x="634" y="296" width="2" height="2"/><rect x="624" y="313" width="2" height="2"/><rect x="627" y="316" width="2" height="2"/><rect x="629" y="318" width="2" height="2"/><rect x="623" y="324" width="2" height="2"/><rect x="631" y="308" width="2" height="2"/><rect x="625" y="321" width="2" height="2"/><rect x="628" y="321" width="2" height="2"/><rect x="630" y="313" width="2" height="2"/><rect x="633" y="343" width="2" height="2"/><rect x="632" y="347" width="2" height="2"/><rect x="632" y="350" width="2" height="2"/><rect x="636" y="351" width="2" height="2"/><rect x="631" y="353" width="2" height="2"/><rect x="631" y="353" width="2" height="2"/><rect x="631" y="356" width="2" height="2"/><rect x="624" y="363" width="2" height="2"/><rect x="620" y="369" width="2" height="2"/><rect x="624" y="368" width="2" height="2"/><rect x="622" y="373" width="2" height="2"/><rect x="626" y="373" width="2" height="2"/><rect x="630" y="370" width="2" height="2"/><rect x="634" y="373" width="2" height="2"/><rect x="626" y="386" width="2" height="2"/><rect x="631" y="384" width="2" height="2"/><rect x="632" y="389" width="2" height="2"/><rect x="659" y="292" width="2" height="2"/><rect x="667" y="286" width="2" height="2"/><rect x="671" y="288" width="2" height="2"/><rect x="674" y="297" width="2" height="2"/><rect x="684" y="296" width="2" height="2"/><rect x="690" y="283" width="2" height="2"/><rect x="690" y="290" width="2" height="2"/><rect x="691" y="290" width="2" height="2"/><rect x="689" y="292" width="2" height="2"/><rect x="690" y="297" width="2" height="2"/><rect x="691" y="300" width="2" height="2"/><rect x="690" y="305" width="2" height="2"/><rect x="689" y="308" width="2" height="2"/><rect x="665" y="334" width="2" height="2"/><rect x="671" y="336" width="2" height="2"/><rect x="677" y="334" width="2" height="2"/><rect x="679" y="335" width="2" height="2"/><rect x="685" y="333" width="2" height="2"/><rect x="685" y="336" width="2" height="2"/><rect x="655" y="361" width="2" height="2"/><rect x="690" y="389" width="2" height="2"/><rect x="724" y="290" width="2" height="2"/><rect x="724" y="298" width="2" height="2"/><rect x="724" y="307" width="2" height="2"/><rect x="721" y="309" width="2" height="2"/><rect x="725" y="312" width="2" height="2"/><rect x="730" y="312" width="2" height="2"/><rect x="731" y="312" width="2" height="2"/><rect x="722" y="318" width="2" height="2"/><rect x="724" y="318" width="2" height="2"/><rect x="728" y="318" width="2" height="2"/><rect x="721" y="321" width="2" height="2"/><rect x="735" y="321" width="2" height="2"/><rect x="722" y="323" width="2" height="2"/><rect x="729" y="323" width="2" height="2"/><rect x="731" y="323" width="2" height="2"/><rect x="723" y="326" width="2" height="2"/><rect x="726" y="326" width="2" height="2"/><rect x="728" y="326" width="2" height="2"/><rect x="723" y="329" width="2" height="2"/><rect x="727" y="329" width="2" height="2"/><rect x="721" y="332" width="2" height="2"/><rect x="723" y="334" width="2" height="2"/><rect x="726" y="332" width="2" height="2"/><rect x="730" y="332" width="2" height="2"/><rect x="729" y="334" width="2" height="2"/><rect x="739" y="334" width="2" height="2"/><rect x="722" y="337" width="2" height="2"/><rect x="725" y="337" width="2" height="2"/><rect x="727" y="337" width="2" height="2"/><rect x="730" y="337" width="2" height="2"/><rect x="734" y="339" width="2" height="2"/><rect x="722" y="340" width="2" height="2"/><rect x="722" y="341" width="2" height="2"/><rect x="726" y="340" width="2" height="2"/><rect x="728" y="340" width="2" height="2"/><rect x="731" y="340" width="2" height="2"/><rect x="721" y="343" width="2" height="2"/><rect x="724" y="343" width="2" height="2"/><rect x="731" y="343" width="2" height="2"/><rect x="724" y="346" width="2" height="2"/><rect x="725" y="346" width="2" height="2"/><rect x="729" y="346" width="2" height="2"/><rect x="735" y="347" width="2" height="2"/><rect x="741" y="347" width="2" height="2"/><rect x="723" y="351" width="2" height="2"/><rect x="727" y="351" width="2" height="2"/><rect x="730" y="351" width="2" height="2"/><rect x="739" y="351" width="2" height="2"/><rect x="722" y="354" width="2" height="2"/><rect x="726" y="354" width="2" height="2"/><rect x="731" y="354" width="2" height="2"/><rect x="734" y="356" width="2" height="2"/><rect x="735" y="356" width="2" height="2"/><rect x="739" y="356" width="2" height="2"/><rect x="739" y="356" width="2" height="2"/><rect x="725" y="357" width="2" height="2"/><rect x="730" y="357" width="2" height="2"/><rect x="737" y="360" width="2" height="2"/><rect x="726" y="362" width="2" height="2"/><rect x="727" y="365" width="2" height="2"/><rect x="730" y="365" width="2" height="2"/><rect x="736" y="364" width="2" height="2"/><rect x="737" y="364" width="2" height="2"/><rect x="740" y="364" width="2" height="2"/><rect x="722" y="368" width="2" height="2"/><rect x="728" y="368" width="2" height="2"/><rect x="733" y="369" width="2" height="2"/><rect x="733" y="369" width="2" height="2"/><rect x="739" y="369" width="2" height="2"/><rect x="724" y="371" width="2" height="2"/><rect x="729" y="371" width="2" height="2"/><rect x="732" y="373" width="2" height="2"/><rect x="736" y="373" width="2" height="2"/><rect x="737" y="373" width="2" height="2"/><rect x="741" y="373" width="2" height="2"/><rect x="721" y="376" width="2" height="2"/><rect x="734" y="377" width="2" height="2"/><rect x="735" y="377" width="2" height="2"/><rect x="737" y="377" width="2" height="2"/><rect x="741" y="377" width="2" height="2"/><rect x="732" y="381" width="2" height="2"/><rect x="736" y="381" width="2" height="2"/><rect x="737" y="381" width="2" height="2"/><rect x="740" y="381" width="2" height="2"/><rect x="733" y="386" width="2" height="2"/><rect x="733" y="386" width="2" height="2"/><rect x="736" y="386" width="2" height="2"/><rect x="739" y="386" width="2" height="2"/><rect x="756" y="309" width="2" height="2"/><rect x="765" y="308" width="2" height="2"/><rect x="770" y="306" width="2" height="2"/><rect x="757" y="313" width="2" height="2"/><rect x="762" y="313" width="2" height="2"/><rect x="768" y="312" width="2" height="2"/><rect x="769" y="312" width="2" height="2"/><rect x="767" y="316" width="2" height="2"/><rect x="767" y="316" width="2" height="2"/><rect x="770" y="317" width="2" height="2"/><rect x="756" y="319" width="2" height="2"/><rect x="757" y="319" width="2" height="2"/><rect x="763" y="319" width="2" height="2"/><rect x="766" y="321" width="2" height="2"/><rect x="755" y="322" width="2" height="2"/><rect x="769" y="322" width="2" height="2"/><rect x="757" y="324" width="2" height="2"/><rect x="761" y="324" width="2" height="2"/><rect x="761" y="324" width="2" height="2"/><rect x="764" y="323" width="2" height="2"/><rect x="765" y="326" width="2" height="2"/><rect x="756" y="329" width="2" height="2"/><rect x="762" y="329" width="2" height="2"/><rect x="765" y="330" width="2" height="2"/><rect x="756" y="332" width="2" height="2"/><rect x="757" y="332" width="2" height="2"/><rect x="762" y="333" width="2" height="2"/><rect x="763" y="335" width="2" height="2"/><rect x="755" y="338" width="2" height="2"/><rect x="758" y="336" width="2" height="2"/><rect x="761" y="338" width="2" height="2"/><rect x="764" y="338" width="2" height="2"/><rect x="759" y="317" width="2" height="2"/><rect x="766" y="314" width="2" height="2"/><rect x="758" y="327" width="2" height="2"/><rect x="768" y="327" width="2" height="2"/><rect x="755" y="355" width="2" height="2"/><rect x="765" y="359" width="2" height="2"/><rect x="770" y="359" width="2" height="2"/><rect x="760" y="372" width="2" height="2"/><rect x="766" y="386" width="2" height="2"/><rect x="164" y="312" width="2" height="2"/><rect x="169" y="328" width="2" height="2"/><rect x="162" y="323" width="2" height="2"/><rect x="158" y="313" width="2" height="2"/><rect x="159" y="323" width="2" height="2"/><rect x="158" y="329" width="2" height="2"/><rect x="156" y="312" width="2" height="2"/><rect x="156" y="325" width="2" height="2"/><rect x="160" y="318" width="2" height="2"/><rect x="160" y="322" width="2" height="2"/><rect x="161" y="313" width="2" height="2"/><rect x="161" y="315" width="2" height="2"/><rect x="157" y="326" width="2" height="2"/><rect x="165" y="323" width="2" height="2"/><rect x="168" y="317" width="2" height="2"/><rect x="161" y="317" width="2" height="2"/><rect x="161" y="323" width="2" height="2"/><rect x="155" y="318" width="2" height="2"/><rect x="163" y="316" width="2" height="2"/><rect x="155" y="324" width="2" height="2"/><rect x="155" y="320" width="2" height="2"/><rect x="157" y="309" width="2" height="2"/><rect x="158" y="309" width="2" height="2"/><rect x="157" y="323" width="2" height="2"/><rect x="166" y="316" width="2" height="2"/><rect x="165" y="318" width="2" height="2"/><rect x="162" y="327" width="2" height="2"/><rect x="160" y="327" width="2" height="2"/><rect x="165" y="323" width="2" height="2"/><rect x="155" y="310" width="2" height="2"/><rect x="155" y="316" width="2" height="2"/><rect x="169" y="327" width="2" height="2"/><rect x="168" y="311" width="2" height="2"/><rect x="166" y="325" width="2" height="2"/><rect x="167" y="325" width="2" height="2"/><rect x="157" y="312" width="2" height="2"/><rect x="167" y="324" width="2" height="2"/><rect x="168" y="318" width="2" height="2"/><rect x="168" y="311" width="2" height="2"/><rect x="169" y="327" width="2" height="2"/><rect x="160" y="309" width="2" height="2"/><rect x="163" y="323" width="2" height="2"/><rect x="160" y="309" width="2" height="2"/><rect x="159" y="326" width="2" height="2"/><rect x="156" y="329" width="2" height="2"/><rect x="160" y="315" width="2" height="2"/><rect x="158" y="327" width="2" height="2"/><rect x="167" y="317" width="2" height="2"/><rect x="158" y="322" width="2" height="2"/><rect x="167" y="312" width="2" height="2"/><rect x="164" y="325" width="2" height="2"/><rect x="162" y="321" width="2" height="2"/><rect x="166" y="316" width="2" height="2"/><rect x="160" y="322" width="2" height="2"/><rect x="163" y="320" width="2" height="2"/><rect x="161" y="326" width="2" height="2"/><rect x="160" y="322" width="2" height="2"/><rect x="167" y="318" width="2" height="2"/><rect x="158" y="315" width="2" height="2"/><rect x="158" y="314" width="2" height="2"/><rect x="158" y="317" width="2" height="2"/><rect x="161" y="319" width="2" height="2"/><rect x="164" y="322" width="2" height="2"/><rect x="165" y="317" width="2" height="2"/><rect x="164" y="320" width="2" height="2"/><rect x="158" y="320" width="2" height="2"/><rect x="161" y="322" width="2" height="2"/><rect x="165" y="316" width="2" height="2"/><rect x="162" y="319" width="2" height="2"/><rect x="160" y="313" width="2" height="2"/><rect x="158" y="327" width="2" height="2"/><rect x="165" y="319" width="2" height="2"/><rect x="164" y="316" width="2" height="2"/><rect x="165" y="326" width="2" height="2"/><rect x="166" y="319" width="2" height="2"/><rect x="196" y="324" width="2" height="2"/><rect x="188" y="314" width="2" height="2"/><rect x="192" y="311" width="2" height="2"/><rect x="193" y="308" width="2" height="2"/><rect x="194" y="323" width="2" height="2"/><rect x="189" y="320" width="2" height="2"/><rect x="190" y="318" width="2" height="2"/><rect x="194" y="326" width="2" height="2"/><rect x="195" y="312" width="2" height="2"/><rect x="194" y="308" width="2" height="2"/><rect x="194" y="314" width="2" height="2"/><rect x="190" y="310" width="2" height="2"/><rect x="190" y="322" width="2" height="2"/><rect x="189" y="310" width="2" height="2"/><rect x="190" y="308" width="2" height="2"/><rect x="194" y="317" width="2" height="2"/><rect x="194" y="324" width="2" height="2"/><rect x="192" y="306" width="2" height="2"/><rect x="190" y="316" width="2" height="2"/><rect x="194" y="324" width="2" height="2"/><rect x="192" y="310" width="2" height="2"/><rect x="193" y="325" width="2" height="2"/><rect x="191" y="325" width="2" height="2"/><rect x="196" y="317" width="2" height="2"/><rect x="192" y="308" width="2" height="2"/><rect x="189" y="306" width="2" height="2"/><rect x="193" y="320" width="2" height="2"/><rect x="196" y="318" width="2" height="2"/><rect x="196" y="313" width="2" height="2"/><rect x="189" y="306" width="2" height="2"/><rect x="190" y="316" width="2" height="2"/><rect x="196" y="311" width="2" height="2"/><rect x="190" y="320" width="2" height="2"/><rect x="191" y="317" width="2" height="2"/><rect x="189" y="323" width="2" height="2"/><rect x="195" y="320" width="2" height="2"/><rect x="195" y="314" width="2" height="2"/><rect x="189" y="313" width="2" height="2"/><rect x="194" y="316" width="2" height="2"/><rect x="190" y="311" width="2" height="2"/><rect x="190" y="315" width="2" height="2"/><rect x="195" y="321" width="2" height="2"/><rect x="194" y="320" width="2" height="2"/><rect x="190" y="320" width="2" height="2"/><rect x="190" y="316" width="2" height="2"/><rect x="189" y="321" width="2" height="2"/><rect x="190" y="317" width="2" height="2"/><rect x="193" y="318" width="2" height="2"/><rect x="193" y="314" width="2" height="2"/><rect x="194" y="322" width="2" height="2"/><rect x="193" y="323" width="2" height="2"/><rect x="194" y="310" width="2" height="2"/><rect x="193" y="310" width="2" height="2"/><rect x="193" y="314" width="2" height="2"/><rect x="194" y="310" width="2" height="2"/><rect x="403" y="304" width="2" height="2"/><rect x="395" y="303" width="2" height="2"/><rect x="396" y="329" width="2" height="2"/><rect x="402" y="327" width="2" height="2"/><rect x="396" y="321" width="2" height="2"/><rect x="401" y="322" width="2" height="2"/><rect x="397" y="328" width="2" height="2"/><rect x="401" y="321" width="2" height="2"/><rect x="397" y="313" width="2" height="2"/><rect x="401" y="316" width="2" height="2"/><rect x="399" y="327" width="2" height="2"/><rect x="398" y="325" width="2" height="2"/><rect x="395" y="317" width="2" height="2"/><rect x="401" y="303" width="2" height="2"/><rect x="401" y="310" width="2" height="2"/><rect x="400" y="319" width="2" height="2"/><rect x="396" y="328" width="2" height="2"/><rect x="397" y="307" width="2" height="2"/><rect x="399" y="305" width="2" height="2"/><rect x="396" y="323" width="2" height="2"/><rect x="396" y="317" width="2" height="2"/><rect x="402" y="315" width="2" height="2"/><rect x="402" y="325" width="2" height="2"/><rect x="396" y="305" width="2" height="2"/><rect x="401" y="326" width="2" height="2"/><rect x="402" y="322" width="2" height="2"/><rect x="399" y="328" width="2" height="2"/><rect x="401" y="323" width="2" height="2"/><rect x="402" y="304" width="2" height="2"/><rect x="401" y="318" width="2" height="2"/><rect x="395" y="310" width="2" height="2"/><rect x="401" y="317" width="2" height="2"/><rect x="399" y="310" width="2" height="2"/><rect x="400" y="326" width="2" height="2"/><rect x="403" y="317" width="2" height="2"/><rect x="414" y="307" width="2" height="2"/><rect x="406" y="321" width="2" height="2"/><rect x="415" y="308" width="2" height="2"/><rect x="406" y="319" width="2" height="2"/><rect x="408" y="308" width="2" height="2"/><rect x="406" y="317" width="2" height="2"/><rect x="414" y="309" width="2" height="2"/><rect x="414" y="306" width="2" height="2"/><rect x="407" y="325" width="2" height="2"/><rect x="404" y="314" width="2" height="2"/><rect x="406" y="311" width="2" height="2"/><rect x="416" y="309" width="2" height="2"/><rect x="413" y="332" width="2" height="2"/><rect x="407" y="331" width="2" height="2"/><rect x="408" y="328" width="2" height="2"/><rect x="412" y="315" width="2" height="2"/><rect x="416" y="326" width="2" height="2"/><rect x="408" y="322" width="2" height="2"/><rect x="408" y="313" width="2" height="2"/><rect x="416" y="334" width="2" height="2"/><rect x="406" y="332" width="2" height="2"/><rect x="413" y="304" width="2" height="2"/><rect x="405" y="318" width="2" height="2"/><rect x="416" y="331" width="2" height="2"/><rect x="407" y="318" width="2" height="2"/><rect x="416" y="310" width="2" height="2"/><rect x="405" y="317" width="2" height="2"/><rect x="413" y="331" width="2" height="2"/><rect x="415" y="304" width="2" height="2"/><rect x="406" y="308" width="2" height="2"/><rect x="412" y="317" width="2" height="2"/><rect x="416" y="323" width="2" height="2"/><rect x="412" y="325" width="2" height="2"/><rect x="407" y="332" width="2" height="2"/><rect x="415" y="329" width="2" height="2"/><rect x="414" y="309" width="2" height="2"/><rect x="405" y="315" width="2" height="2"/><rect x="413" y="310" width="2" height="2"/><rect x="415" y="331" width="2" height="2"/><rect x="413" y="319" width="2" height="2"/><rect x="419" y="335" width="2" height="2"/><rect x="419" y="323" width="2" height="2"/><rect x="425" y="329" width="2" height="2"/><rect x="419" y="338" width="2" height="2"/><rect x="420" y="321" width="2" height="2"/><rect x="421" y="331" width="2" height="2"/><rect x="417" y="329" width="2" height="2"/><rect x="422" y="335" width="2" height="2"/><rect x="421" y="326" width="2" height="2"/><rect x="427" y="307" width="2" height="2"/><rect x="425" y="322" width="2" height="2"/><rect x="420" y="315" width="2" height="2"/><rect x="419" y="336" width="2" height="2"/><rect x="419" y="341" width="2" height="2"/><rect x="422" y="316" width="2" height="2"/><rect x="425" y="327" width="2" height="2"/><rect x="426" y="310" width="2" height="2"/><rect x="424" y="306" width="2" height="2"/><rect x="615" y="313" width="2" height="2"/><rect x="616" y="310" width="2" height="2"/><rect x="618" y="322" width="2" height="2"/><rect x="617" y="316" width="2" height="2"/><rect x="619" y="308" width="2" height="2"/><rect x="621" y="303" width="2" height="2"/><rect x="617" y="324" width="2" height="2"/><rect x="616" y="311" width="2" height="2"/><rect x="615" y="328" width="2" height="2"/><rect x="620" y="304" width="2" height="2"/><rect x="627" y="302" width="2" height="2"/><rect x="622" y="304" width="2" height="2"/><rect x="628" y="313" width="2" height="2"/><rect x="625" y="314" width="2" height="2"/><rect x="623" y="308" width="2" height="2"/><rect x="623" y="321" width="2" height="2"/><rect x="625" y="318" width="2" height="2"/><rect x="625" y="310" width="2" height="2"/><rect x="627" y="305" width="2" height="2"/><rect x="627" y="320" width="2" height="2"/><rect x="623" y="304" width="2" height="2"/><rect x="622" y="312" width="2" height="2"/><rect x="623" y="313" width="2" height="2"/><rect x="623" y="313" width="2" height="2"/><rect x="664" y="324" width="2" height="2"/><rect x="682" y="330" width="2" height="2"/><rect x="670" y="328" width="2" height="2"/><rect x="683" y="312" width="2" height="2"/><rect x="687" y="330" width="2" height="2"/><rect x="660" y="324" width="2" height="2"/><rect x="678" y="320" width="2" height="2"/><rect x="678" y="310" width="2" height="2"/><rect x="683" y="323" width="2" height="2"/><rect x="661" y="330" width="2" height="2"/><rect x="679" y="304" width="2" height="2"/><rect x="656" y="307" width="2" height="2"/><rect x="677" y="323" width="2" height="2"/><rect x="686" y="328" width="2" height="2"/><rect x="662" y="308" width="2" height="2"/><rect x="658" y="313" width="2" height="2"/><rect x="669" y="313" width="2" height="2"/><rect x="682" y="320" width="2" height="2"/><rect x="682" y="327" width="2" height="2"/><rect x="680" y="317" width="2" height="2"/><rect x="669" y="318" width="2" height="2"/><rect x="670" y="321" width="2" height="2"/><rect x="683" y="322" width="2" height="2"/><rect x="663" y="318" width="2" height="2"/><rect x="670" y="306" width="2" height="2"/><rect x="658" y="315" width="2" height="2"/><rect x="686" y="322" width="2" height="2"/><rect x="657" y="329" width="2" height="2"/><rect x="679" y="320" width="2" height="2"/><rect x="655" y="311" width="2" height="2"/><rect x="666" y="316" width="2" height="2"/><rect x="659" y="320" width="2" height="2"/><rect x="675" y="321" width="2" height="2"/><rect x="671" y="318" width="2" height="2"/><rect x="659" y="326" width="2" height="2"/><rect x="684" y="327" width="2" height="2"/><rect x="680" y="309" width="2" height="2"/><rect x="665" y="303" width="2" height="2"/><rect x="681" y="327" width="2" height="2"/><rect x="686" y="319" width="2" height="2"/><rect x="681" y="327" width="2" height="2"/><rect x="659" y="304" width="2" height="2"/><rect x="684" y="330" width="2" height="2"/><rect x="679" y="320" width="2" height="2"/><rect x="668" y="327" width="2" height="2"/><rect x="664" y="304" width="2" height="2"/><rect x="682" y="304" width="2" height="2"/><rect x="679" y="321" width="2" height="2"/><rect x="659" y="315" width="2" height="2"/><rect x="664" y="325" width="2" height="2"/><rect x="681" y="312" width="2" height="2"/><rect x="660" y="312" width="2" height="2"/><rect x="670" y="320" width="2" height="2"/><rect x="686" y="311" width="2" height="2"/><rect x="660" y="320" width="2" height="2"/><rect x="669" y="323" width="2" height="2"/><rect x="677" y="318" width="2" height="2"/><rect x="682" y="308" width="2" height="2"/><rect x="681" y="307" width="2" height="2"/><rect x="671" y="318" width="2" height="2"/><rect x="673" y="305" width="2" height="2"/><rect x="670" y="310" width="2" height="2"/><rect x="664" y="314" width="2" height="2"/><rect x="669" y="308" width="2" height="2"/><rect x="678" y="329" width="2" height="2"/><rect x="686" y="307" width="2" height="2"/><rect x="663" y="314" width="2" height="2"/><rect x="675" y="322" width="2" height="2"/><rect x="674" y="316" width="2" height="2"/><rect x="688" y="330" width="2" height="2"/><rect x="682" y="309" width="2" height="2"/><rect x="680" y="303" width="2" height="2"/><rect x="686" y="322" width="2" height="2"/><rect x="686" y="314" width="2" height="2"/><rect x="678" y="309" width="2" height="2"/><rect x="686" y="307" width="2" height="2"/><rect x="655" y="310" width="2" height="2"/><rect x="677" y="318" width="2" height="2"/><rect x="682" y="322" width="2" height="2"/><rect x="681" y="329" width="2" height="2"/><rect x="657" y="305" width="2" height="2"/><rect x="665" y="306" width="2" height="2"/><rect x="673" y="323" width="2" height="2"/><rect x="661" y="316" width="2" height="2"/><rect x="663" y="302" width="2" height="2"/><rect x="664" y="310" width="2" height="2"/><rect x="678" y="330" width="2" height="2"/><rect x="657" y="316" width="2" height="2"/><rect x="670" y="320" width="2" height="2"/><rect x="660" y="330" width="2" height="2"/><rect x="664" y="319" width="2" height="2"/><rect x="668" y="318" width="2" height="2"/><rect x="684" y="320" width="2" height="2"/><rect x="666" y="330" width="2" height="2"/><rect x="661" y="330" width="2" height="2"/><rect x="677" y="309" width="2" height="2"/><rect x="688" y="327" width="2" height="2"/><rect x="672" y="325" width="2" height="2"/><rect x="658" y="310" width="2" height="2"/><rect x="671" y="329" width="2" height="2"/><rect x="667" y="331" width="2" height="2"/><rect x="674" y="323" width="2" height="2"/><rect x="681" y="306" width="2" height="2"/><rect x="685" y="319" width="2" height="2"/><rect x="659" y="306" width="2" height="2"/><rect x="681" y="318" width="2" height="2"/><rect x="686" y="327" width="2" height="2"/><rect x="673" y="314" width="2" height="2"/><rect x="680" y="330" width="2" height="2"/><rect x="665" y="317" width="2" height="2"/><rect x="659" y="303" width="2" height="2"/><rect x="657" y="313" width="2" height="2"/><rect x="675" y="327" width="2" height="2"/><rect x="680" y="330" width="2" height="2"/><rect x="663" y="327" width="2" height="2"/><rect x="666" y="313" width="2" height="2"/><rect x="673" y="331" width="2" height="2"/><rect x="670" y="304" width="2" height="2"/><rect x="667" y="318" width="2" height="2"/><rect x="678" y="306" width="2" height="2"/><rect x="664" y="307" width="2" height="2"/><rect x="672" y="313" width="2" height="2"/><rect x="666" y="317" width="2" height="2"/><rect x="680" y="320" width="2" height="2"/><rect x="679" y="314" width="2" height="2"/><rect x="686" y="305" width="2" height="2"/><rect x="657" y="305" width="2" height="2"/><rect x="671" y="311" width="2" height="2"/><rect x="662" y="302" width="2" height="2"/><rect x="681" y="304" width="2" height="2"/><rect x="676" y="330" width="2" height="2"/><rect x="663" y="319" width="2" height="2"/><rect x="684" y="315" width="2" height="2"/><rect x="685" y="303" width="2" height="2"/><rect x="674" y="325" width="2" height="2"/><rect x="671" y="326" width="2" height="2"/><rect x="687" y="326" width="2" height="2"/><rect x="671" y="322" width="2" height="2"/><rect x="684" y="320" width="2" height="2"/><rect x="657" y="308" width="2" height="2"/><rect x="675" y="305" width="2" height="2"/><rect x="660" y="330" width="2" height="2"/><rect x="672" y="331" width="2" height="2"/><rect x="683" y="325" width="2" height="2"/><rect x="669" y="309" width="2" height="2"/><rect x="657" y="308" width="2" height="2"/><rect x="671" y="320" width="2" height="2"/><rect x="660" y="315" width="2" height="2"/><rect x="667" y="327" width="2" height="2"/><rect x="665" y="326" width="2" height="2"/><rect x="676" y="326" width="2" height="2"/><rect x="666" y="312" width="2" height="2"/><rect x="672" y="312" width="2" height="2"/><rect x="675" y="326" width="2" height="2"/><rect x="673" y="311" width="2" height="2"/><rect x="660" y="320" width="2" height="2"/><rect x="671" y="307" width="2" height="2"/><rect x="669" y="323" width="2" height="2"/><rect x="675" y="314" width="2" height="2"/><rect x="684" y="327" width="2" height="2"/><rect x="660" y="312" width="2" height="2"/><rect x="675" y="314" width="2" height="2"/><rect x="665" y="323" width="2" height="2"/><rect x="682" y="317" width="2" height="2"/><rect x="684" y="319" width="2" height="2"/><rect x="675" y="317" width="2" height="2"/><rect x="680" y="325" width="2" height="2"/><rect x="672" y="317" width="2" height="2"/><rect x="680" y="324" width="2" height="2"/><rect x="676" y="310" width="2" height="2"/><rect x="662" y="314" width="2" height="2"/><rect x="660" y="314" width="2" height="2"/><rect x="668" y="309" width="2" height="2"/><rect x="663" y="320" width="2" height="2"/><rect x="682" y="311" width="2" height="2"/><rect x="678" y="315" width="2" height="2"/><rect x="659" y="326" width="2" height="2"/><rect x="662" y="317" width="2" height="2"/><rect x="659" y="313" width="2" height="2"/><rect x="668" y="315" width="2" height="2"/><rect x="673" y="326" width="2" height="2"/><rect x="675" y="316" width="2" height="2"/><rect x="681" y="316" width="2" height="2"/><rect x="677" y="316" width="2" height="2"/><rect x="678" y="309" width="2" height="2"/><rect x="663" y="321" width="2" height="2"/><rect x="678" y="314" width="2" height="2"/><rect x="660" y="319" width="2" height="2"/><rect x="662" y="315" width="2" height="2"/><rect x="680" y="323" width="2" height="2"/><rect x="277" y="384" width="2" height="2"/><rect x="276" y="384" width="2" height="2"/><rect x="279" y="386" width="2" height="2"/><rect x="277" y="387" width="2" height="2"/><rect x="277" y="387" width="2" height="2"/><rect x="278" y="384" width="2" height="2"/><rect x="269" y="386" width="2" height="2"/><rect x="269" y="387" width="2" height="2"/><rect x="273" y="387" width="2" height="2"/><rect x="269" y="386" width="2" height="2"/><rect x="276" y="386" width="2" height="2"/><rect x="270" y="384" width="2" height="2"/><rect x="277" y="387" width="2" height="2"/><rect x="274" y="384" width="2" height="2"/><rect x="276" y="387" width="2" height="2"/><rect x="275" y="387" width="2" height="2"/><rect x="275" y="387" width="2" height="2"/><rect x="271" y="385" width="2" height="2"/><rect x="279" y="387" width="2" height="2"/><rect x="269" y="386" width="2" height="2"/><rect x="276" y="386" width="2" height="2"/><rect x="272" y="385" width="2" height="2"/><rect x="278" y="384" width="2" height="2"/><rect x="269" y="386" width="2" height="2"/><rect x="268" y="385" width="2" height="2"/><rect x="274" y="386" width="2" height="2"/><rect x="271" y="386" width="2" height="2"/><rect x="275" y="387" width="2" height="2"/><rect x="273" y="387" width="2" height="2"/><rect x="273" y="387" width="2" height="2"/><rect x="272" y="386" width="2" height="2"/><rect x="271" y="386" width="2" height="2"/><rect x="276" y="384" width="2" height="2"/><rect x="277" y="384" width="2" height="2"/><rect x="277" y="384" width="2" height="2"/><rect x="271" y="385" width="2" height="2"/><rect x="271" y="386" width="2" height="2"/><rect x="272" y="387" width="2" height="2"/><rect x="272" y="387" width="2" height="2"/><rect x="271" y="386" width="2" height="2"/><rect x="274" y="385" width="2" height="2"/><rect x="277" y="386" width="2" height="2"/><rect x="274" y="386" width="2" height="2"/><rect x="271" y="385" width="2" height="2"/><rect x="278" y="386" width="2" height="2"/><rect x="348" y="334" width="2" height="2"/><rect x="352" y="330" width="2" height="2"/><rect x="346" y="325" width="2" height="2"/><rect x="348" y="327" width="2" height="2"/><rect x="347" y="326" width="2" height="2"/><rect x="351" y="321" width="2" height="2"/><rect x="346" y="327" width="2" height="2"/><rect x="345" y="324" width="2" height="2"/><rect x="347" y="331" width="2" height="2"/><rect x="346" y="327" width="2" height="2"/><rect x="351" y="329" width="2" height="2"/><rect x="348" y="322" width="2" height="2"/><rect x="352" y="331" width="2" height="2"/><rect x="350" y="323" width="2" height="2"/><rect x="347" y="332" width="2" height="2"/><rect x="351" y="331" width="2" height="2"/><rect x="347" y="330" width="2" height="2"/><rect x="351" y="332" width="2" height="2"/><rect x="350" y="320" width="2" height="2"/><rect x="345" y="323" width="2" height="2"/><rect x="351" y="324" width="2" height="2"/><rect x="345" y="326" width="2" height="2"/><rect x="346" y="325" width="2" height="2"/><rect x="350" y="327" width="2" height="2"/><rect x="349" y="327" width="2" height="2"/><rect x="770" y="318" width="2" height="2"/><rect x="767" y="306" width="2" height="2"/><rect x="768" y="306" width="2" height="2"/><rect x="763" y="305" width="2" height="2"/><rect x="766" y="317" width="2" height="2"/><rect x="766" y="316" width="2" height="2"/><rect x="767" y="315" width="2" height="2"/><rect x="767" y="315" width="2" height="2"/><rect x="765" y="308" width="2" height="2"/><rect x="769" y="316" width="2" height="2"/><rect x="769" y="314" width="2" height="2"/><rect x="769" y="313" width="2" height="2"/></g>
<line x1="125" y1="331.9" x2="900" y2="329.3" stroke="#00ffff" stroke-width="1.39"/>
<path d="M125.5 391.5h5.56M900.5 391.5h-5.56M125.5 368.5h5.56M900.5 368.5h-5.56M125.5 344.5h5.56M900.5 344.5h-5.56M125.5 321.5h5.56M900.5 321.5h-5.56M125.5 298.5h5.56M900.5 298.5h-5.56M125.5 274.5h5.56M900.5 274.5h-5.56M125.5 251.5h5.56M900.5 251.5h-5.56M236.5 391.5v-5.56M236.5 233.5v5.56M362.5 391.5v-5.56M362.5 233.5v5.56M487.5 391.5v-5.56M487.5 233.5v5.56M613.5 391.5v-5.56M613.5 233.5v5.56M739.5 391.5v-5.56M739.5 233.5v5.56M865.5 391.5v-5.56M865.5 233.5v5.56" stroke="#000" stroke-width="0.8" fill="none"/>
<rect x="125.5" y="233.5" width="775.0" height="158.0" fill="none" stroke="#000" stroke-width="1.39"/>
<text x="119.4" y="396.0" font-size="12.5" text-anchor="end">0</text>
<text x="119.4" y="373.0" font-size="12.5" text-anchor="end">2</text>
<text x="119.4" y="349.0" font-size="12.5" text-anchor="end">4</text>
<text x="119.4" y="326.0" font-size="12.5" text-anchor="end">6</text>
<text x="119.4" y="303.0" font-size="12.5" text-anchor="end">8</text>
<text x="119.4" y="279.0" font-size="12.5" text-anchor="end">10</text>
<text x="119.4" y="256.0" font-size="12.5" text-anchor="end">12</text>
<text transform="translate(97.8 312.5) rotate(-90)" font-size="12.5" text-anchor="middle">cnts/s</text>
<rect x="131.5" y="240.5" width="170.0" height="23.0" fill="#fff" stroke="#707070" stroke-width="1"/>
<rect x="139" y="249" width="2" height="2" fill="#008000" fill-opacity="0.56"/><rect x="157" y="249" width="2" height="2" fill="#008000" fill-opacity="0.56"/>
<text x="170.9" y="254.1" font-size="12.5" textLength="34.8" lengthAdjust="spacingAndGlyphs">CCD6</text>
<text x="210.1" y="254.1" font-size="12.5" textLength="38.6" lengthAdjust="spacingAndGlyphs">Slope:</text>
<text x="253.1" y="254.1" font-size="12.5" textLength="43.5" lengthAdjust="spacingAndGlyphs">0.0071</text>
<g fill="#ff0000" fill-opacity="0.56"><rect x="158" y="491" width="5" height="5" fill-opacity="1"/><rect x="190" y="489" width="7" height="5" fill-opacity="1"/><rect x="271" y="494" width="8" height="4" fill-opacity="1"/><rect x="256" y="505" width="4" height="4" fill-opacity="1"/><rect x="346" y="529" width="4" height="3" fill-opacity="1"/><rect x="396" y="501" width="7" height="4" fill-opacity="1"/><rect x="414" y="501" width="4" height="3" fill-opacity="1"/><rect x="406" y="529" width="7" height="3" fill-opacity="1"/><rect x="474" y="506" width="5" height="4" fill-opacity="1"/><rect x="657" y="503" width="31" height="2" fill-opacity="1"/><rect x="767" y="485" width="4" height="5" fill-opacity="1"/><rect x="756" y="528" width="3" height="3" fill-opacity="1"/><rect x="762" y="527" width="5" height="4" fill-opacity="1"/><rect x="159" y="489" width="2" height="2"/><rect x="161" y="496" width="2" height="2"/><rect x="166" y="479" width="2" height="2"/><rect x="163" y="488" width="2" height="2"/><rect x="167" y="489" width="2" height="2"/><rect x="169" y="460" width="2" height="2"/><rect x="168" y="463" width="2" height="2"/><rect x="168" y="465" width="2" height="2"/><rect x="169" y="461" width="2" height="2"/><rect x="195" y="487" width="2" height="2"/><rect x="193" y="496" width="2" height="2"/><rect x="214" y="482" width="2" height="2"/><rect x="211" y="486" width="2" height="2"/><rect x="219" y="488" width="2" height="2"/><rect x="212" y="498" width="2" height="2"/><rect x="217" y="499" width="2" height="2"/><rect x="211" y="498" width="2" height="2"/><rect x="218" y="498" width="2" height="2"/><rect x="216" y="497" width="2" height="2"/><rect x="219" y="500" width="2" height="2"/><rect x="188" y="509" width="2" height="2"/><rect x="197" y="533" width="2" height="2"/><rect x="210" y="516" width="2" height="2"/><rect x="220" y="517" width="2" height="2"/><rect x="156" y="521" width="2" height="2"/><rect x="162" y="524" width="2" height="2"/><rect x="168" y="525" width="2" height="2"/><rect x="170" y="522" width="2" height="2"/><rect x="168" y="551" width="2" height="2"/><rect x="163" y="558" width="2" height="2"/><rect x="236" y="501" width="2" height="2"/><rect x="235" y="504" width="2" height="2"/><rect x="261" y="451" width="2" height="2"/><rect x="260" y="455" width="2" height="2"/><rect x="259" y="458" width="2" height="2"/><rect x="262" y="457" width="2" height="2"/><rect x="261" y="460" width="2" height="2"/><rect x="262" y="462" width="2" height="2"/><rect x="261" y="453" width="2" height="2"/><rect x="279" y="450" width="2" height="2"/><rect x="278" y="454" width="2" height="2"/><rect x="280" y="457" width="2" height="2"/><rect x="278" y="458" width="2" height="2"/><rect x="280" y="460" width="2" height="2"/><rect x="279" y="463" width="2" height="2"/><rect x="278" y="466" width="2" height="2"/><rect x="279" y="452" width="2" height="2"/><rect x="279" y="461" width="2" height="2"/><rect x="260" y="489" width="2" height="2"/><rect x="261" y="494" width="2" height="2"/><rect x="265" y="494" width="2" height="2"/><rect x="263" y="501" width="2" height="2"/><rect x="267" y="500" width="2" height="2"/><rect x="255" y="519" width="2" height="2"/><rect x="263" y="527" width="2" height="2"/><rect x="259" y="540" width="2" height="2"/><rect x="258" y="543" width="2" height="2"/><rect x="269" y="539" width="2" height="2"/><rect x="278" y="542" width="2" height="2"/><rect x="281" y="549" width="2" height="2"/><rect x="269" y="554" width="2" height="2"/><rect x="278" y="554" width="2" height="2"/><rect x="360" y="441" width="2" height="2"/><rect x="361" y="444" width="2" height="2"/><rect x="360" y="447" width="2" height="2"/><rect x="361" y="447" width="2" height="2"/><rect x="361" y="449" width="2" height="2"/><rect x="360" y="445" width="2" height="2"/><rect x="360" y="465" width="2" height="2"/><rect x="369" y="466" width="2" height="2"/><rect x="368" y="469" width="2" height="2"/><rect x="367" y="474" width="2" height="2"/><rect x="363" y="478" width="2" height="2"/><rect x="367" y="478" width="2" height="2"/><rect x="364" y="482" width="2" height="2"/><rect x="367" y="482" width="2" height="2"/><rect x="368" y="484" width="2" height="2"/><rect x="363" y="486" width="2" height="2"/><rect x="365" y="488" width="2" height="2"/><rect x="366" y="490" width="2" height="2"/><rect x="364" y="492" width="2" height="2"/><rect x="366" y="491" width="2" height="2"/><rect x="364" y="494" width="2" height="2"/><rect x="364" y="496" width="2" height="2"/><rect x="404" y="440" width="2" height="2"/><rect x="403" y="444" width="2" height="2"/><rect x="404" y="445" width="2" height="2"/><rect x="405" y="445" width="2" height="2"/><rect x="403" y="448" width="2" height="2"/><rect x="403" y="466" width="2" height="2"/><rect x="351" y="499" width="2" height="2"/><rect x="350" y="504" width="2" height="2"/><rect x="353" y="502" width="2" height="2"/><rect x="356" y="504" width="2" height="2"/><rect x="353" y="506" width="2" height="2"/><rect x="357" y="509" width="2" height="2"/><rect x="356" y="513" width="2" height="2"/><rect x="358" y="512" width="2" height="2"/><rect x="355" y="516" width="2" height="2"/><rect x="356" y="520" width="2" height="2"/><rect x="352" y="501" width="2" height="2"/><rect x="354" y="508" width="2" height="2"/><rect x="355" y="510" width="2" height="2"/><rect x="357" y="507" width="2" height="2"/><rect x="351" y="503" width="2" height="2"/><rect x="369" y="512" width="2" height="2"/><rect x="345" y="533" width="2" height="2"/><rect x="363" y="529" width="2" height="2"/><rect x="350" y="540" width="2" height="2"/><rect x="353" y="540" width="2" height="2"/><rect x="353" y="554" width="2" height="2"/><rect x="395" y="514" width="2" height="2"/><rect x="404" y="514" width="2" height="2"/><rect x="413" y="505" width="2" height="2"/><rect x="423" y="516" width="2" height="2"/><rect x="427" y="517" width="2" height="2"/><rect x="420" y="524" width="2" height="2"/><rect x="425" y="527" width="2" height="2"/><rect x="428" y="536" width="2" height="2"/><rect x="402" y="530" width="2" height="2"/><rect x="405" y="541" width="2" height="2"/><rect x="412" y="541" width="2" height="2"/><rect x="406" y="547" width="2" height="2"/><rect x="407" y="545" width="2" height="2"/><rect x="417" y="549" width="2" height="2"/><rect x="422" y="551" width="2" height="2"/><rect x="423" y="542" width="2" height="2"/><rect x="471" y="456" width="2" height="2"/><rect x="471" y="458" width="2" height="2"/><rect x="471" y="459" width="2" height="2"/><rect x="471" y="457" width="2" height="2"/><rect x="472" y="472" width="2" height="2"/><rect x="482" y="499" width="2" height="2"/><rect x="484" y="501" width="2" height="2"/><rect x="481" y="504" width="2" height="2"/><rect x="486" y="504" width="2" height="2"/><rect x="482" y="508" width="2" height="2"/><rect x="485" y="509" width="2" height="2"/><rect x="489" y="499" width="2" height="2"/><rect x="489" y="505" width="2" height="2"/><rect x="485" y="514" width="2" height="2"/><rect x="483" y="502" width="2" height="2"/><rect x="485" y="506" width="2" height="2"/><rect x="488" y="502" width="2" height="2"/><rect x="483" y="506" width="2" height="2"/><rect x="489" y="507" width="2" height="2"/><rect x="484" y="504" width="2" height="2"/><rect x="479" y="539" width="2" height="2"/><rect x="479" y="542" width="2" height="2"/><rect x="479" y="542" width="2" height="2"/><rect x="478" y="547" width="2" height="2"/><rect x="480" y="549" width="2" height="2"/><rect x="490" y="547" width="2" height="2"/><rect x="478" y="555" width="2" height="2"/><rect x="489" y="555" width="2" height="2"/><rect x="471" y="557" width="2" height="2"/><rect x="479" y="540" width="2" height="2"/><rect x="605" y="455" width="2" height="2"/><rect x="605" y="458" width="2" height="2"/><rect x="605" y="460" width="2" height="2"/><rect x="605" y="464" width="2" height="2"/><rect x="604" y="513" width="2" height="2"/><rect x="615" y="452" width="2" height="2"/><rect x="617" y="457" width="2" height="2"/><rect x="618" y="460" width="2" height="2"/><rect x="618" y="464" width="2" height="2"/><rect x="618" y="467" width="2" height="2"/><rect x="615" y="474" width="2" height="2"/><rect x="619" y="474" width="2" height="2"/><rect x="618" y="477" width="2" height="2"/><rect x="616" y="481" width="2" height="2"/><rect x="619" y="482" width="2" height="2"/><rect x="615" y="486" width="2" height="2"/><rect x="618" y="487" width="2" height="2"/><rect x="616" y="490" width="2" height="2"/><rect x="619" y="490" width="2" height="2"/><rect x="615" y="493" width="2" height="2"/><rect x="619" y="494" width="2" height="2"/><rect x="617" y="479" width="2" height="2"/><rect x="615" y="478" width="2" height="2"/><rect x="619" y="485" width="2" height="2"/><rect x="616" y="499" width="2" height="2"/><rect x="619" y="499" width="2" height="2"/><rect x="617" y="504" width="2" height="2"/><rect x="620" y="507" width="2" height="2"/><rect x="614" y="515" width="2" height="2"/><rect x="636" y="519" width="2" height="2"/><rect x="623" y="488" width="2" height="2"/><rect x="623" y="490" width="2" height="2"/><rect x="623" y="492" width="2" height="2"/><rect x="623" y="494" width="2" height="2"/><rect x="633" y="444" width="2" height="2"/><rect x="633" y="447" width="2" height="2"/><rect x="634" y="450" width="2" height="2"/><rect x="635" y="451" width="2" height="2"/><rect x="634" y="453" width="2" height="2"/><rect x="631" y="456" width="2" height="2"/><rect x="632" y="460" width="2" height="2"/><rect x="632" y="464" width="2" height="2"/><rect x="631" y="468" width="2" height="2"/><rect x="631" y="469" width="2" height="2"/><rect x="633" y="448" width="2" height="2"/><rect x="634" y="446" width="2" height="2"/><rect x="633" y="499" width="2" height="2"/><rect x="659" y="497" width="2" height="2"/><rect x="678" y="495" width="2" height="2"/><rect x="683" y="498" width="2" height="2"/><rect x="686" y="508" width="2" height="2"/><rect x="687" y="508" width="2" height="2"/><rect x="620" y="532" width="2" height="2"/><rect x="624" y="533" width="2" height="2"/><rect x="631" y="532" width="2" height="2"/><rect x="612" y="539" width="2" height="2"/><rect x="614" y="541" width="2" height="2"/><rect x="615" y="541" width="2" height="2"/><rect x="624" y="542" width="2" height="2"/><rect x="626" y="543" width="2" height="2"/><rect x="630" y="542" width="2" height="2"/><rect x="601" y="546" width="2" height="2"/><rect x="622" y="547" width="2" height="2"/><rect x="634" y="546" width="2" height="2"/><rect x="605" y="551" width="2" height="2"/><rect x="614" y="551" width="2" height="2"/><rect x="604" y="554" width="2" height="2"/><rect x="612" y="555" width="2" height="2"/><rect x="626" y="555" width="2" height="2"/><rect x="632" y="560" width="2" height="2"/><rect x="655" y="539" width="2" height="2"/><rect x="692" y="535" width="2" height="2"/><rect x="690" y="559" width="2" height="2"/><rect x="696" y="440" width="2" height="2"/><rect x="693" y="446" width="2" height="2"/><rect x="700" y="446" width="2" height="2"/><rect x="741" y="512" width="2" height="2"/><rect x="732" y="518" width="2" height="2"/><rect x="743" y="536" width="2" height="2"/><rect x="758" y="534" width="2" height="2"/><rect x="770" y="532" width="2" height="2"/><rect x="755" y="546" width="2" height="2"/><rect x="765" y="544" width="2" height="2"/><rect x="760" y="551" width="2" height="2"/><rect x="766" y="556" width="2" height="2"/><rect x="754" y="559" width="2" height="2"/><rect x="746" y="441" width="2" height="2"/><rect x="748" y="442" width="2" height="2"/><rect x="750" y="441" width="2" height="2"/><rect x="157" y="493" width="2" height="2"/><rect x="157" y="493" width="2" height="2"/><rect x="160" y="491" width="2" height="2"/><rect x="160" y="492" width="2" height="2"/><rect x="156" y="492" width="2" height="2"/><rect x="160" y="492" width="2" height="2"/><rect x="161" y="493" width="2" height="2"/><rect x="158" y="490" width="2" height="2"/><rect x="157" y="494" width="2" height="2"/><rect x="160" y="493" width="2" height="2"/><rect x="159" y="492" width="2" height="2"/><rect x="157" y="492" width="2" height="2"/><rect x="157" y="493" width="2" height="2"/><rect x="160" y="493" width="2" height="2"/><rect x="157" y="490" width="2" height="2"/><rect x="158" y="493" width="2" height="2"/><rect x="159" y="493" width="2" height="2"/><rect x="159" y="491" width="2" height="2"/><rect x="161" y="490" width="2" height="2"/><rect x="157" y="493" width="2" height="2"/><rect x="160" y="492" width="2" height="2"/><rect x="159" y="492" width="2" height="2"/><rect x="160" y="494" width="2" height="2"/><rect x="161" y="493" width="2" height="2"/><rect x="159" y="495" width="2" height="2"/><rect x="159" y="493" width="2" height="2"/><rect x="161" y="493" width="2" height="2"/><rect x="158" y="493" width="2" height="2"/><rect x="160" y="494" width="2" height="2"/><rect x="160" y="492" width="2" height="2"/><rect x="162" y="492" width="2" height="2"/><rect x="158" y="495" width="2" height="2"/><rect x="162" y="490" width="2" height="2"/><rect x="156" y="494" width="2" height="2"/><rect x="161" y="491" width="2" height="2"/><rect x="158" y="493" width="2" height="2"/><rect x="162" y="490" width="2" height="2"/><rect x="159" y="493" width="2" height="2"/><rect x="157" y="491" width="2" height="2"/><rect x="157" y="492" width="2" height="2"/><rect x="163" y="480" width="2" height="2"/><rect x="164" y="481" width="2" height="2"/><rect x="163" y="481" width="2" height="2"/><rect x="165" y="482" width="2" height="2"/><rect x="166" y="483" width="2" height="2"/><rect x="163" y="481" width="2" height="2"/><rect x="164" y="486" width="2" height="2"/><rect x="163" y="484" width="2" height="2"/><rect x="167" y="487" width="2" height="2"/><rect x="165" y="487" width="2" height="2"/><rect x="166" y="481" width="2" height="2"/><rect x="163" y="481" width="2" height="2"/><rect x="167" y="483" width="2" height="2"/><rect x="167" y="489" width="2" height="2"/><rect x="168" y="484" width="2" height="2"/><rect x="162" y="482" width="2" height="2"/><rect x="163" y="485" width="2" height="2"/><rect x="166" y="488" width="2" height="2"/><rect x="166" y="489" width="2" height="2"/><rect x="166" y="484" width="2" height="2"/><rect x="167" y="482" width="2" height="2"/><rect x="167" y="486" width="2" height="2"/><rect x="167" y="480" width="2" height="2"/><rect x="163" y="488" width="2" height="2"/><rect x="163" y="484" width="2" height="2"/><rect x="166" y="484" width="2" height="2"/><rect x="167" y="489" width="2" height="2"/><rect x="164" y="480" width="2" height="2"/><rect x="167" y="484" width="2" height="2"/><rect x="163" y="480" width="2" height="2"/><rect x="167" y="463" width="2" height="2"/><rect x="168" y="462" width="2" height="2"/><rect x="170" y="462" width="2" height="2"/><rect x="170" y="459" width="2" height="2"/><rect x="169" y="464" width="2" height="2"/><rect x="170" y="458" width="2" height="2"/><rect x="169" y="462" width="2" height="2"/><rect x="169" y="462" width="2" height="2"/><rect x="190" y="493" width="2" height="2"/><rect x="196" y="492" width="2" height="2"/><rect x="197" y="491" width="2" height="2"/><rect x="189" y="492" width="2" height="2"/><rect x="189" y="492" width="2" height="2"/><rect x="194" y="488" width="2" height="2"/><rect x="189" y="487" width="2" height="2"/><rect x="190" y="494" width="2" height="2"/><rect x="190" y="493" width="2" height="2"/><rect x="189" y="489" width="2" height="2"/><rect x="192" y="490" width="2" height="2"/><rect x="197" y="489" width="2" height="2"/><rect x="192" y="488" width="2" height="2"/><rect x="189" y="492" width="2" height="2"/><rect x="191" y="490" width="2" height="2"/><rect x="194" y="488" width="2" height="2"/><rect x="188" y="492" width="2" height="2"/><rect x="197" y="487" width="2" height="2"/><rect x="192" y="494" width="2" height="2"/><rect x="195" y="494" width="2" height="2"/><rect x="193" y="494" width="2" height="2"/><rect x="189" y="490" width="2" height="2"/><rect x="196" y="490" width="2" height="2"/><rect x="192" y="490" width="2" height="2"/><rect x="191" y="493" width="2" height="2"/><rect x="197" y="489" width="2" height="2"/><rect x="191" y="493" width="2" height="2"/><rect x="195" y="493" width="2" height="2"/><rect x="194" y="493" width="2" height="2"/><rect x="196" y="491" width="2" height="2"/><rect x="191" y="488" width="2" height="2"/><rect x="196" y="493" width="2" height="2"/><rect x="196" y="489" width="2" height="2"/><rect x="195" y="494" width="2" height="2"/><rect x="190" y="487" width="2" height="2"/><rect x="190" y="489" width="2" height="2"/><rect x="194" y="493" width="2" height="2"/><rect x="195" y="492" width="2" height="2"/><rect x="197" y="494" width="2" height="2"/><rect x="192" y="493" width="2" height="2"/><rect x="194" y="489" width="2" height="2"/><rect x="193" y="488" width="2" height="2"/><rect x="192" y="493" width="2" height="2"/><rect x="188" y="491" width="2" height="2"/><rect x="192" y="489" width="2" height="2"/><rect x="189" y="491" width="2" height="2"/><rect x="191" y="488" width="2" height="2"/><rect x="192" y="492" width="2" height="2"/><rect x="189" y="492" width="2" height="2"/><rect x="189" y="490" width="2" height="2"/><rect x="191" y="493" width="2" height="2"/><rect x="196" y="492" width="2" height="2"/><rect x="191" y="489" width="2" height="2"/><rect x="195" y="491" width="2" height="2"/><rect x="194" y="492" width="2" height="2"/><rect x="212" y="489" width="2" height="2"/><rect x="219" y="488" width="2" height="2"/><rect x="218" y="485" width="2" height="2"/><rect x="210" y="491" width="2" height="2"/><rect x="213" y="492" width="2" height="2"/><rect x="217" y="483" width="2" height="2"/><rect x="214" y="488" width="2" height="2"/><rect x="218" y="496" width="2" height="2"/><rect x="218" y="495" width="2" height="2"/><rect x="213" y="493" width="2" height="2"/><rect x="215" y="488" width="2" height="2"/><rect x="213" y="493" width="2" height="2"/><rect x="218" y="486" width="2" height="2"/><rect x="213" y="485" width="2" height="2"/><rect x="213" y="489" width="2" height="2"/><rect x="211" y="493" width="2" height="2"/><rect x="213" y="496" width="2" height="2"/><rect x="212" y="494" width="2" height="2"/><rect x="219" y="485" width="2" height="2"/><rect x="213" y="499" width="2" height="2"/><rect x="214" y="488" width="2" height="2"/><rect x="211" y="496" width="2" height="2"/><rect x="213" y="497" width="2" height="2"/><rect x="215" y="485" width="2" height="2"/><rect x="219" y="497" width="2" height="2"/><rect x="217" y="492" width="2" height="2"/><rect x="217" y="498" width="2" height="2"/><rect x="212" y="486" width="2" height="2"/><rect x="217" y="489" width="2" height="2"/><rect x="219" y="496" width="2" height="2"/><rect x="200" y="503" width="2" height="2"/><rect x="201" y="508" width="2" height="2"/><rect x="201" y="510" width="2" height="2"/><rect x="200" y="512" width="2" height="2"/><rect x="201" y="503" width="2" height="2"/><rect x="203" y="503" width="2" height="2"/><rect x="203" y="512" width="2" height="2"/><rect x="198" y="503" width="2" height="2"/><rect x="202" y="506" width="2" height="2"/><rect x="199" y="510" width="2" height="2"/><rect x="199" y="503" width="2" height="2"/><rect x="200" y="512" width="2" height="2"/><rect x="204" y="502" width="2" height="2"/><rect x="202" y="505" width="2" height="2"/><rect x="204" y="506" width="2" height="2"/><rect x="197" y="505" width="2" height="2"/><rect x="200" y="503" width="2" height="2"/><rect x="202" y="505" width="2" height="2"/><rect x="202" y="504" width="2" height="2"/><rect x="200" y="509" width="2" height="2"/><rect x="198" y="504" width="2" height="2"/><rect x="203" y="506" width="2" height="2"/><rect x="199" y="508" width="2" height="2"/><rect x="202" y="511" width="2" height="2"/><rect x="201" y="511" width="2" height="2"/><rect x="203" y="512" width="2" height="2"/><rect x="203" y="509" width="2" height="2"/><rect x="202" y="506" width="2" height="2"/><rect x="197" y="512" width="2" height="2"/><rect x="199" y="505" width="2" height="2"/><rect x="200" y="510" width="2" height="2"/><rect x="203" y="502" width="2" height="2"/><rect x="202" y="512" width="2" height="2"/><rect x="204" y="512" width="2" height="2"/><rect x="201" y="512" width="2" height="2"/><rect x="201" y="511" width="2" height="2"/><rect x="204" y="505" width="2" height="2"/><rect x="197" y="510" width="2" height="2"/><rect x="204" y="512" width="2" height="2"/><rect x="200" y="506" width="2" height="2"/><rect x="197" y="511" width="2" height="2"/><rect x="198" y="502" width="2" height="2"/><rect x="197" y="512" width="2" height="2"/><rect x="199" y="511" width="2" height="2"/><rect x="197" y="507" width="2" height="2"/><rect x="202" y="510" width="2" height="2"/><rect x="198" y="507" width="2" height="2"/><rect x="203" y="512" width="2" height="2"/><rect x="197" y="508" width="2" height="2"/><rect x="203" y="508" width="2" height="2"/><rect x="236" y="502" width="2" height="2"/><rect x="235" y="500" width="2" height="2"/><rect x="236" y="503" width="2" height="2"/><rect x="234" y="506" width="2" height="2"/><rect x="234" y="500" width="2" height="2"/><rect x="236" y="500" width="2" height="2"/><rect x="236" y="501" width="2" height="2"/><rect x="233" y="504" width="2" height="2"/><rect x="235" y="504" width="2" height="2"/><rect x="236" y="504" width="2" height="2"/><rect x="213" y="489" width="2" height="2"/><rect x="216" y="494" width="2" height="2"/><rect x="216" y="490" width="2" height="2"/><rect x="217" y="493" width="2" height="2"/><rect x="213" y="487" width="2" height="2"/><rect x="212" y="494" width="2" height="2"/><rect x="213" y="491" width="2" height="2"/><rect x="215" y="492" width="2" height="2"/><rect x="218" y="492" width="2" height="2"/><rect x="213" y="489" width="2" height="2"/><rect x="213" y="489" width="2" height="2"/><rect x="216" y="492" width="2" height="2"/><rect x="216" y="494" width="2" height="2"/><rect x="218" y="488" width="2" height="2"/><rect x="216" y="491" width="2" height="2"/><rect x="258" y="462" width="2" height="2"/><rect x="260" y="458" width="2" height="2"/><rect x="259" y="456" width="2" height="2"/><rect x="258" y="462" width="2" height="2"/><rect x="258" y="452" width="2" height="2"/><rect x="261" y="457" width="2" height="2"/><rect x="259" y="461" width="2" height="2"/><rect x="261" y="456" width="2" height="2"/><rect x="280" y="465" width="2" height="2"/><rect x="280" y="456" width="2" height="2"/><rect x="280" y="454" width="2" height="2"/><rect x="279" y="466" width="2" height="2"/><rect x="280" y="456" width="2" height="2"/><rect x="279" y="457" width="2" height="2"/><rect x="280" y="458" width="2" height="2"/><rect x="279" y="457" width="2" height="2"/><rect x="281" y="463" width="2" height="2"/><rect x="278" y="456" width="2" height="2"/><rect x="278" y="496" width="2" height="2"/><rect x="275" y="496" width="2" height="2"/><rect x="270" y="495" width="2" height="2"/><rect x="276" y="495" width="2" height="2"/><rect x="273" y="495" width="2" height="2"/><rect x="275" y="493" width="2" height="2"/><rect x="277" y="492" width="2" height="2"/><rect x="277" y="495" width="2" height="2"/><rect x="271" y="494" width="2" height="2"/><rect x="271" y="493" width="2" height="2"/><rect x="279" y="494" width="2" height="2"/><rect x="269" y="496" width="2" height="2"/><rect x="279" y="494" width="2" height="2"/><rect x="271" y="496" width="2" height="2"/><rect x="272" y="495" width="2" height="2"/><rect x="274" y="498" width="2" height="2"/><rect x="272" y="494" width="2" height="2"/><rect x="276" y="495" width="2" height="2"/><rect x="278" y="495" width="2" height="2"/><rect x="275" y="495" width="2" height="2"/><rect x="275" y="495" width="2" height="2"/><rect x="270" y="493" width="2" height="2"/><rect x="272" y="498" width="2" height="2"/><rect x="274" y="495" width="2" height="2"/><rect x="273" y="497" width="2" height="2"/><rect x="272" y="494" width="2" height="2"/><rect x="272" y="495" width="2" height="2"/><rect x="273" y="496" width="2" height="2"/><rect x="278" y="494" width="2" height="2"/><rect x="275" y="498" width="2" height="2"/><rect x="276" y="497" width="2" height="2"/><rect x="277" y="493" width="2" height="2"/><rect x="275" y="494" width="2" height="2"/><rect x="272" y="493" width="2" height="2"/><rect x="277" y="498" width="2" height="2"/><rect x="277" y="495" width="2" height="2"/><rect x="278" y="497" width="2" height="2"/><rect x="275" y="497" width="2" height="2"/><rect x="277" y="492" width="2" height="2"/><rect x="275" y="496" width="2" height="2"/><rect x="272" y="497" width="2" height="2"/><rect x="276" y="493" width="2" height="2"/><rect x="272" y="492" width="2" height="2"/><rect x="272" y="493" width="2" height="2"/><rect x="268" y="494" width="2" height="2"/><rect x="258" y="504" width="2" height="2"/><rect x="260" y="504" width="2" height="2"/><rect x="259" y="505" width="2" height="2"/><rect x="259" y="506" width="2" height="2"/><rect x="259" y="506" width="2" height="2"/><rect x="256" y="508" width="2" height="2"/><rect x="254" y="504" width="2" height="2"/><rect x="255" y="506" width="2" height="2"/><rect x="259" y="504" width="2" height="2"/><rect x="257" y="508" width="2" height="2"/><rect x="262" y="510" width="2" height="2"/><rect x="263" y="500" width="2" height="2"/><rect x="265" y="505" width="2" height="2"/><rect x="265" y="508" width="2" height="2"/><rect x="262" y="508" width="2" height="2"/><rect x="263" y="512" width="2" height="2"/><rect x="265" y="503" width="2" height="2"/><rect x="266" y="505" width="2" height="2"/><rect x="262" y="510" width="2" height="2"/><rect x="265" y="511" width="2" height="2"/><rect x="267" y="511" width="2" height="2"/><rect x="269" y="504" width="2" height="2"/><rect x="266" y="507" width="2" height="2"/><rect x="266" y="510" width="2" height="2"/><rect x="267" y="508" width="2" height="2"/><rect x="266" y="507" width="2" height="2"/><rect x="263" y="504" width="2" height="2"/><rect x="263" y="508" width="2" height="2"/><rect x="266" y="503" width="2" height="2"/><rect x="265" y="511" width="2" height="2"/><rect x="263" y="507" width="2" height="2"/><rect x="266" y="506" width="2" height="2"/><rect x="264" y="512" width="2" height="2"/><rect x="266" y="507" width="2" height="2"/><rect x="263" y="500" width="2" height="2"/><rect x="265" y="503" width="2" height="2"/><rect x="267" y="509" width="2" height="2"/><rect x="262" y="505" width="2" height="2"/><rect x="264" y="508" width="2" height="2"/><rect x="266" y="511" width="2" height="2"/><rect x="344" y="529" width="2" height="2"/><rect x="348" y="528" width="2" height="2"/><rect x="344" y="529" width="2" height="2"/><rect x="345" y="527" width="2" height="2"/><rect x="349" y="531" width="2" height="2"/><rect x="348" y="531" width="2" height="2"/><rect x="348" y="529" width="2" height="2"/><rect x="349" y="532" width="2" height="2"/><rect x="350" y="531" width="2" height="2"/><rect x="349" y="532" width="2" height="2"/><rect x="350" y="530" width="2" height="2"/><rect x="347" y="530" width="2" height="2"/><rect x="350" y="527" width="2" height="2"/><rect x="347" y="528" width="2" height="2"/><rect x="345" y="530" width="2" height="2"/><rect x="345" y="528" width="2" height="2"/><rect x="347" y="530" width="2" height="2"/><rect x="347" y="527" width="2" height="2"/><rect x="345" y="530" width="2" height="2"/><rect x="344" y="528" width="2" height="2"/><rect x="346" y="532" width="2" height="2"/><rect x="349" y="531" width="2" height="2"/><rect x="349" y="528" width="2" height="2"/><rect x="348" y="530" width="2" height="2"/><rect x="350" y="527" width="2" height="2"/><rect x="359" y="441" width="2" height="2"/><rect x="360" y="443" width="2" height="2"/><rect x="360" y="448" width="2" height="2"/><rect x="361" y="449" width="2" height="2"/><rect x="359" y="442" width="2" height="2"/><rect x="360" y="448" width="2" height="2"/><rect x="361" y="450" width="2" height="2"/><rect x="360" y="448" width="2" height="2"/><rect x="360" y="449" width="2" height="2"/><rect x="361" y="447" width="2" height="2"/><rect x="360" y="445" width="2" height="2"/><rect x="361" y="447" width="2" height="2"/><rect x="360" y="447" width="2" height="2"/><rect x="360" y="451" width="2" height="2"/><rect x="368" y="486" width="2" height="2"/><rect x="365" y="485" width="2" height="2"/><rect x="368" y="475" width="2" height="2"/><rect x="364" y="489" width="2" height="2"/><rect x="365" y="485" width="2" height="2"/><rect x="363" y="483" width="2" height="2"/><rect x="368" y="489" width="2" height="2"/><rect x="366" y="493" width="2" height="2"/><rect x="364" y="490" width="2" height="2"/><rect x="368" y="482" width="2" height="2"/><rect x="350" y="509" width="2" height="2"/><rect x="358" y="501" width="2" height="2"/><rect x="352" y="511" width="2" height="2"/><rect x="355" y="516" width="2" height="2"/><rect x="355" y="505" width="2" height="2"/><rect x="353" y="507" width="2" height="2"/><rect x="357" y="512" width="2" height="2"/><rect x="354" y="505" width="2" height="2"/><rect x="356" y="502" width="2" height="2"/><rect x="354" y="505" width="2" height="2"/><rect x="350" y="511" width="2" height="2"/><rect x="351" y="504" width="2" height="2"/><rect x="355" y="514" width="2" height="2"/><rect x="356" y="515" width="2" height="2"/><rect x="350" y="513" width="2" height="2"/><rect x="357" y="511" width="2" height="2"/><rect x="359" y="500" width="2" height="2"/><rect x="351" y="515" width="2" height="2"/><rect x="358" y="501" width="2" height="2"/><rect x="354" y="514" width="2" height="2"/><rect x="354" y="500" width="2" height="2"/><rect x="352" y="506" width="2" height="2"/><rect x="351" y="502" width="2" height="2"/><rect x="356" y="501" width="2" height="2"/><rect x="354" y="501" width="2" height="2"/><rect x="351" y="504" width="2" height="2"/><rect x="355" y="503" width="2" height="2"/><rect x="352" y="505" width="2" height="2"/><rect x="355" y="500" width="2" height="2"/><rect x="355" y="504" width="2" height="2"/><rect x="357" y="504" width="2" height="2"/><rect x="354" y="501" width="2" height="2"/><rect x="353" y="500" width="2" height="2"/><rect x="351" y="504" width="2" height="2"/><rect x="356" y="507" width="2" height="2"/><rect x="402" y="502" width="2" height="2"/><rect x="398" y="503" width="2" height="2"/><rect x="397" y="499" width="2" height="2"/><rect x="401" y="505" width="2" height="2"/><rect x="402" y="503" width="2" height="2"/><rect x="401" y="500" width="2" height="2"/><rect x="396" y="504" width="2" height="2"/><rect x="399" y="500" width="2" height="2"/><rect x="400" y="503" width="2" height="2"/><rect x="402" y="500" width="2" height="2"/><rect x="397" y="502" width="2" height="2"/><rect x="402" y="505" width="2" height="2"/><rect x="395" y="501" width="2" height="2"/><rect x="398" y="505" width="2" height="2"/><rect x="400" y="501" width="2" height="2"/><rect x="399" y="500" width="2" height="2"/><rect x="402" y="502" width="2" height="2"/><rect x="399" y="504" width="2" height="2"/><rect x="399" y="499" width="2" height="2"/><rect x="397" y="499" width="2" height="2"/><rect x="398" y="505" width="2" height="2"/><rect x="401" y="505" width="2" height="2"/><rect x="395" y="503" width="2" height="2"/><rect x="401" y="502" width="2" height="2"/><rect x="401" y="500" width="2" height="2"/><rect x="402" y="505" width="2" height="2"/><rect x="396" y="499" width="2" height="2"/><rect x="402" y="502" width="2" height="2"/><rect x="403" y="502" width="2" height="2"/><rect x="396" y="501" width="2" height="2"/><rect x="400" y="501" width="2" height="2"/><rect x="403" y="504" width="2" height="2"/><rect x="399" y="504" width="2" height="2"/><rect x="401" y="501" width="2" height="2"/><rect x="399" y="502" width="2" height="2"/><rect x="394" y="500" width="2" height="2"/><rect x="396" y="499" width="2" height="2"/><rect x="402" y="502" width="2" height="2"/><rect x="396" y="500" width="2" height="2"/><rect x="400" y="502" width="2" height="2"/><rect x="417" y="502" width="2" height="2"/><rect x="413" y="504" width="2" height="2"/><rect x="417" y="501" width="2" height="2"/><rect x="417" y="502" width="2" height="2"/><rect x="413" y="500" width="2" height="2"/><rect x="414" y="502" width="2" height="2"/><rect x="415" y="502" width="2" height="2"/><rect x="412" y="501" width="2" height="2"/><rect x="413" y="501" width="2" height="2"/><rect x="418" y="499" width="2" height="2"/><rect x="412" y="501" width="2" height="2"/><rect x="414" y="499" width="2" height="2"/><rect x="417" y="503" width="2" height="2"/><rect x="417" y="502" width="2" height="2"/><rect x="415" y="502" width="2" height="2"/><rect x="413" y="499" width="2" height="2"/><rect x="418" y="503" width="2" height="2"/><rect x="414" y="502" width="2" height="2"/><rect x="413" y="503" width="2" height="2"/><rect x="417" y="504" width="2" height="2"/><rect x="413" y="504" width="2" height="2"/><rect x="413" y="503" width="2" height="2"/><rect x="418" y="500" width="2" height="2"/><rect x="416" y="503" width="2" height="2"/><rect x="417" y="503" width="2" height="2"/><rect x="425" y="510" width="2" height="2"/><rect x="424" y="514" width="2" height="2"/><rect x="426" y="512" width="2" height="2"/><rect x="427" y="506" width="2" height="2"/><rect x="422" y="508" width="2" height="2"/><rect x="421" y="513" width="2" height="2"/><rect x="419" y="517" width="2" height="2"/><rect x="420" y="512" width="2" height="2"/><rect x="426" y="506" width="2" height="2"/><rect x="419" y="518" width="2" height="2"/><rect x="427" y="509" width="2" height="2"/><rect x="421" y="509" width="2" height="2"/><rect x="425" y="503" width="2" height="2"/><rect x="425" y="513" width="2" height="2"/><rect x="421" y="507" width="2" height="2"/><rect x="422" y="506" width="2" height="2"/><rect x="423" y="503" width="2" height="2"/><rect x="422" y="516" width="2" height="2"/><rect x="425" y="509" width="2" height="2"/><rect x="420" y="507" width="2" height="2"/><rect x="425" y="509" width="2" height="2"/><rect x="426" y="513" width="2" height="2"/><rect x="423" y="513" width="2" height="2"/><rect x="424" y="507" width="2" height="2"/><rect x="428" y="513" width="2" height="2"/><rect x="422" y="501" width="2" height="2"/><rect x="423" y="507" width="2" height="2"/><rect x="427" y="517" width="2" height="2"/><rect x="425" y="502" width="2" height="2"/><rect x="425" y="504" width="2" height="2"/><rect x="424" y="515" width="2" height="2"/><rect x="420" y="518" width="2" height="2"/><rect x="427" y="508" width="2" height="2"/><rect x="424" y="507" width="2" height="2"/><rect x="427" y="517" width="2" height="2"/><rect x="423" y="507" width="2" height="2"/><rect x="420" y="502" width="2" height="2"/><rect x="426" y="502" width="2" height="2"/><rect x="425" y="507" width="2" height="2"/><rect x="420" y="508" width="2" height="2"/><rect x="423" y="505" width="2" height="2"/><rect x="425" y="504" width="2" height="2"/><rect x="426" y="506" width="2" height="2"/><rect x="425" y="504" width="2" height="2"/><rect x="422" y="504" width="2" height="2"/><rect x="406" y="531" width="2" height="2"/><rect x="409" y="532" width="2" height="2"/><rect x="410" y="531" width="2" height="2"/><rect x="409" y="529" width="2" height="2"/><rect x="412" y="528" width="2" height="2"/><rect x="410" y="527" width="2" height="2"/><rect x="405" y="532" width="2" height="2"/><rect x="404" y="531" width="2" height="2"/><rect x="413" y="530" width="2" height="2"/><rect x="413" y="528" width="2" height="2"/><rect x="410" y="530" width="2" height="2"/><rect x="409" y="527" width="2" height="2"/><rect x="405" y="531" width="2" height="2"/><rect x="406" y="530" width="2" height="2"/><rect x="405" y="530" width="2" height="2"/><rect x="405" y="532" width="2" height="2"/><rect x="410" y="528" width="2" height="2"/><rect x="413" y="528" width="2" height="2"/><rect x="408" y="530" width="2" height="2"/><rect x="405" y="530" width="2" height="2"/><rect x="406" y="531" width="2" height="2"/><rect x="413" y="532" width="2" height="2"/><rect x="405" y="529" width="2" height="2"/><rect x="410" y="527" width="2" height="2"/><rect x="404" y="531" width="2" height="2"/><rect x="410" y="528" width="2" height="2"/><rect x="411" y="531" width="2" height="2"/><rect x="407" y="530" width="2" height="2"/><rect x="411" y="527" width="2" height="2"/><rect x="410" y="532" width="2" height="2"/><rect x="413" y="532" width="2" height="2"/><rect x="411" y="532" width="2" height="2"/><rect x="407" y="528" width="2" height="2"/><rect x="411" y="528" width="2" height="2"/><rect x="406" y="530" width="2" height="2"/><rect x="475" y="510" width="2" height="2"/><rect x="473" y="506" width="2" height="2"/><rect x="478" y="506" width="2" height="2"/><rect x="477" y="507" width="2" height="2"/><rect x="479" y="505" width="2" height="2"/><rect x="476" y="506" width="2" height="2"/><rect x="477" y="510" width="2" height="2"/><rect x="477" y="510" width="2" height="2"/><rect x="478" y="507" width="2" height="2"/><rect x="474" y="504" width="2" height="2"/><rect x="475" y="506" width="2" height="2"/><rect x="476" y="510" width="2" height="2"/><rect x="476" y="505" width="2" height="2"/><rect x="478" y="506" width="2" height="2"/><rect x="477" y="508" width="2" height="2"/><rect x="477" y="505" width="2" height="2"/><rect x="473" y="508" width="2" height="2"/><rect x="475" y="508" width="2" height="2"/><rect x="478" y="506" width="2" height="2"/><rect x="475" y="508" width="2" height="2"/><rect x="473" y="507" width="2" height="2"/><rect x="473" y="509" width="2" height="2"/><rect x="474" y="505" width="2" height="2"/><rect x="475" y="509" width="2" height="2"/><rect x="476" y="506" width="2" height="2"/><rect x="473" y="507" width="2" height="2"/><rect x="472" y="507" width="2" height="2"/><rect x="473" y="508" width="2" height="2"/><rect x="478" y="506" width="2" height="2"/><rect x="479" y="508" width="2" height="2"/><rect x="484" y="507" width="2" height="2"/><rect x="488" y="510" width="2" height="2"/><rect x="489" y="513" width="2" height="2"/><rect x="482" y="512" width="2" height="2"/><rect x="489" y="504" width="2" height="2"/><rect x="487" y="506" width="2" height="2"/><rect x="483" y="506" width="2" height="2"/><rect x="490" y="504" width="2" height="2"/><rect x="480" y="511" width="2" height="2"/><rect x="482" y="499" width="2" height="2"/><rect x="482" y="502" width="2" height="2"/><rect x="486" y="500" width="2" height="2"/><rect x="488" y="507" width="2" height="2"/><rect x="489" y="509" width="2" height="2"/><rect x="488" y="509" width="2" height="2"/><rect x="483" y="508" width="2" height="2"/><rect x="484" y="509" width="2" height="2"/><rect x="480" y="506" width="2" height="2"/><rect x="484" y="508" width="2" height="2"/><rect x="482" y="507" width="2" height="2"/><rect x="483" y="510" width="2" height="2"/><rect x="485" y="503" width="2" height="2"/><rect x="488" y="506" width="2" height="2"/><rect x="486" y="506" width="2" height="2"/><rect x="479" y="543" width="2" height="2"/><rect x="479" y="543" width="2" height="2"/><rect x="478" y="542" width="2" height="2"/><rect x="480" y="543" width="2" height="2"/><rect x="479" y="540" width="2" height="2"/><rect x="603" y="504" width="2" height="2"/><rect x="602" y="503" width="2" height="2"/><rect x="602" y="501" width="2" height="2"/><rect x="602" y="506" width="2" height="2"/><rect x="603" y="507" width="2" height="2"/><rect x="604" y="505" width="2" height="2"/><rect x="602" y="501" width="2" height="2"/><rect x="603" y="501" width="2" height="2"/><rect x="603" y="506" width="2" height="2"/><rect x="602" y="503" width="2" height="2"/><rect x="602" y="507" width="2" height="2"/><rect x="602" y="503" width="2" height="2"/><rect x="603" y="505" width="2" height="2"/><rect x="602" y="505" width="2" height="2"/><rect x="615" y="477" width="2" height="2"/><rect x="616" y="486" width="2" height="2"/><rect x="617" y="480" width="2" height="2"/><rect x="616" y="474" width="2" height="2"/><rect x="618" y="492" width="2" height="2"/><rect x="618" y="490" width="2" height="2"/><rect x="616" y="480" width="2" height="2"/><rect x="617" y="476" width="2" height="2"/><rect x="614" y="491" width="2" height="2"/><rect x="617" y="492" width="2" height="2"/><rect x="618" y="482" width="2" height="2"/><rect x="615" y="479" width="2" height="2"/><rect x="623" y="493" width="2" height="2"/><rect x="623" y="490" width="2" height="2"/><rect x="623" y="490" width="2" height="2"/><rect x="623" y="491" width="2" height="2"/><rect x="626" y="491" width="2" height="2"/><rect x="630" y="490" width="2" height="2"/><rect x="630" y="490" width="2" height="2"/><rect x="628" y="492" width="2" height="2"/><rect x="631" y="492" width="2" height="2"/><rect x="631" y="488" width="2" height="2"/><rect x="628" y="491" width="2" height="2"/><rect x="628" y="489" width="2" height="2"/><rect x="628" y="491" width="2" height="2"/><rect x="627" y="485" width="2" height="2"/><rect x="631" y="490" width="2" height="2"/><rect x="631" y="487" width="2" height="2"/><rect x="626" y="485" width="2" height="2"/><rect x="628" y="488" width="2" height="2"/><rect x="627" y="492" width="2" height="2"/><rect x="631" y="487" width="2" height="2"/><rect x="630" y="493" width="2" height="2"/><rect x="629" y="487" width="2" height="2"/><rect x="626" y="488" width="2" height="2"/><rect x="626" y="492" width="2" height="2"/><rect x="629" y="490" width="2" height="2"/><rect x="631" y="488" width="2" height="2"/><rect x="627" y="491" width="2" height="2"/><rect x="627" y="488" width="2" height="2"/><rect x="631" y="493" width="2" height="2"/><rect x="633" y="449" width="2" height="2"/><rect x="633" y="448" width="2" height="2"/><rect x="631" y="445" width="2" height="2"/><rect x="633" y="450" width="2" height="2"/><rect x="636" y="446" width="2" height="2"/><rect x="632" y="444" width="2" height="2"/><rect x="664" y="501" width="2" height="2"/><rect x="674" y="502" width="2" height="2"/><rect x="686" y="502" width="2" height="2"/><rect x="670" y="503" width="2" height="2"/><rect x="679" y="502" width="2" height="2"/><rect x="655" y="504" width="2" height="2"/><rect x="662" y="504" width="2" height="2"/><rect x="678" y="503" width="2" height="2"/><rect x="676" y="502" width="2" height="2"/><rect x="683" y="502" width="2" height="2"/><rect x="686" y="502" width="2" height="2"/><rect x="676" y="503" width="2" height="2"/><rect x="664" y="502" width="2" height="2"/><rect x="671" y="505" width="2" height="2"/><rect x="670" y="504" width="2" height="2"/><rect x="685" y="502" width="2" height="2"/><rect x="672" y="501" width="2" height="2"/><rect x="685" y="504" width="2" height="2"/><rect x="661" y="505" width="2" height="2"/><rect x="679" y="503" width="2" height="2"/><rect x="674" y="503" width="2" height="2"/><rect x="681" y="503" width="2" height="2"/><rect x="666" y="502" width="2" height="2"/><rect x="658" y="505" width="2" height="2"/><rect x="663" y="502" width="2" height="2"/><rect x="668" y="502" width="2" height="2"/><rect x="683" y="502" width="2" height="2"/><rect x="680" y="504" width="2" height="2"/><rect x="656" y="502" width="2" height="2"/><rect x="682" y="503" width="2" height="2"/><rect x="670" y="504" width="2" height="2"/><rect x="687" y="505" width="2" height="2"/><rect x="666" y="502" width="2" height="2"/><rect x="678" y="503" width="2" height="2"/><rect x="685" y="505" width="2" height="2"/><rect x="683" y="501" width="2" height="2"/><rect x="664" y="505" width="2" height="2"/><rect x="685" y="501" width="2" height="2"/><rect x="654" y="505" width="2" height="2"/><rect x="657" y="504" width="2" height="2"/><rect x="683" y="504" width="2" height="2"/><rect x="667" y="503" width="2" height="2"/><rect x="661" y="501" width="2" height="2"/><rect x="655" y="501" width="2" height="2"/><rect x="686" y="501" width="2" height="2"/><rect x="684" y="502" width="2" height="2"/><rect x="677" y="504" width="2" height="2"/><rect x="661" y="501" width="2" height="2"/><rect x="661" y="504" width="2" height="2"/><rect x="669" y="502" width="2" height="2"/><rect x="666" y="503" width="2" height="2"/><rect x="687" y="503" width="2" height="2"/><rect x="679" y="501" width="2" height="2"/><rect x="684" y="503" width="2" height="2"/><rect x="665" y="504" width="2" height="2"/><rect x="659" y="501" width="2" height="2"/><rect x="684" y="505" width="2" height="2"/><rect x="663" y="502" width="2" height="2"/><rect x="677" y="502" width="2" height="2"/><rect x="672" y="502" width="2" height="2"/><rect x="684" y="502" width="2" height="2"/><rect x="671" y="504" width="2" height="2"/><rect x="683" y="504" width="2" height="2"/><rect x="662" y="501" width="2" height="2"/><rect x="673" y="503" width="2" height="2"/><rect x="679" y="503" width="2" height="2"/><rect x="674" y="503" width="2" height="2"/><rect x="684" y="504" width="2" height="2"/><rect x="656" y="505" width="2" height="2"/><rect x="666" y="502" width="2" height="2"/><rect x="656" y="502" width="2" height="2"/><rect x="669" y="503" width="2" height="2"/><rect x="674" y="504" width="2" height="2"/><rect x="684" y="502" width="2" height="2"/><rect x="656" y="504" width="2" height="2"/><rect x="679" y="504" width="2" height="2"/><rect x="664" y="503" width="2" height="2"/><rect x="685" y="503" width="2" height="2"/><rect x="667" y="503" width="2" height="2"/><rect x="681" y="502" width="2" height="2"/><rect x="669" y="504" width="2" height="2"/><rect x="676" y="501" width="2" height="2"/><rect x="675" y="503" width="2" height="2"/><rect x="669" y="503" width="2" height="2"/><rect x="658" y="504" width="2" height="2"/><rect x="655" y="502" width="2" height="2"/><rect x="671" y="502" width="2" height="2"/><rect x="670" y="501" width="2" height="2"/><rect x="673" y="505" width="2" height="2"/><rect x="656" y="505" width="2" height="2"/><rect x="677" y="504" width="2" height="2"/><rect x="658" y="502" width="2" height="2"/><rect x="673" y="504" width="2" height="2"/><rect x="657" y="501" width="2" height="2"/><rect x="686" y="504" width="2" height="2"/><rect x="681" y="501" width="2" height="2"/><rect x="658" y="503" width="2" height="2"/><rect x="684" y="502" width="2" height="2"/><rect x="679" y="504" width="2" height="2"/><rect x="674" y="503" width="2" height="2"/><rect x="670" y="503" width="2" height="2"/><rect x="675" y="502" width="2" height="2"/><rect x="675" y="505" width="2" height="2"/><rect x="659" y="502" width="2" height="2"/><rect x="684" y="504" width="2" height="2"/><rect x="662" y="502" width="2" height="2"/><rect x="685" y="502" width="2" height="2"/><rect x="655" y="502" width="2" height="2"/><rect x="660" y="505" width="2" height="2"/><rect x="686" y="503" width="2" height="2"/><rect x="674" y="505" width="2" height="2"/><rect x="658" y="502" width="2" height="2"/><rect x="666" y="504" width="2" height="2"/><rect x="682" y="504" width="2" height="2"/><rect x="683" y="501" width="2" height="2"/><rect x="669" y="502" width="2" height="2"/><rect x="654" y="505" width="2" height="2"/><rect x="663" y="502" width="2" height="2"/><rect x="671" y="501" width="2" height="2"/><rect x="673" y="503" width="2" height="2"/><rect x="684" y="502" width="2" height="2"/><rect x="655" y="503" width="2" height="2"/><rect x="683" y="504" width="2" height="2"/><rect x="679" y="503" width="2" height="2"/><rect x="665" y="503" width="2" height="2"/><rect x="674" y="503" width="2" height="2"/><rect x="664" y="504" width="2" height="2"/><rect x="670" y="504" width="2" height="2"/><rect x="684" y="503" width="2" height="2"/><rect x="665" y="503" width="2" height="2"/><rect x="667" y="503" width="2" height="2"/><rect x="666" y="502" width="2" height="2"/><rect x="657" y="502" width="2" height="2"/><rect x="656" y="502" width="2" height="2"/><rect x="678" y="502" width="2" height="2"/><rect x="687" y="503" width="2" height="2"/><rect x="681" y="505" width="2" height="2"/><rect x="681" y="504" width="2" height="2"/><rect x="660" y="503" width="2" height="2"/><rect x="673" y="504" width="2" height="2"/><rect x="686" y="502" width="2" height="2"/><rect x="669" y="505" width="2" height="2"/><rect x="679" y="501" width="2" height="2"/><rect x="663" y="503" width="2" height="2"/><rect x="687" y="504" width="2" height="2"/><rect x="672" y="505" width="2" height="2"/><rect x="683" y="505" width="2" height="2"/><rect x="674" y="504" width="2" height="2"/><rect x="673" y="502" width="2" height="2"/><rect x="669" y="501" width="2" height="2"/><rect x="700" y="469" width="2" height="2"/><rect x="693" y="445" width="2" height="2"/><rect x="698" y="453" width="2" height="2"/><rect x="691" y="447" width="2" height="2"/><rect x="693" y="447" width="2" height="2"/><rect x="694" y="472" width="2" height="2"/><rect x="700" y="472" width="2" height="2"/><rect x="700" y="459" width="2" height="2"/><rect x="695" y="474" width="2" height="2"/><rect x="695" y="464" width="2" height="2"/><rect x="690" y="463" width="2" height="2"/><rect x="690" y="468" width="2" height="2"/><rect x="697" y="462" width="2" height="2"/><rect x="697" y="457" width="2" height="2"/><rect x="694" y="449" width="2" height="2"/><rect x="697" y="474" width="2" height="2"/><rect x="695" y="469" width="2" height="2"/><rect x="696" y="461" width="2" height="2"/><rect x="701" y="458" width="2" height="2"/><rect x="693" y="476" width="2" height="2"/><rect x="694" y="458" width="2" height="2"/><rect x="694" y="458" width="2" height="2"/><rect x="693" y="465" width="2" height="2"/><rect x="701" y="473" width="2" height="2"/><rect x="703" y="476" width="2" height="2"/><rect x="699" y="454" width="2" height="2"/><rect x="699" y="462" width="2" height="2"/><rect x="697" y="450" width="2" height="2"/><rect x="695" y="457" width="2" height="2"/><rect x="695" y="467" width="2" height="2"/><rect x="694" y="455" width="2" height="2"/><rect x="694" y="466" width="2" height="2"/><rect x="689" y="451" width="2" height="2"/><rect x="700" y="451" width="2" height="2"/><rect x="694" y="462" width="2" height="2"/><rect x="696" y="467" width="2" height="2"/><rect x="696" y="460" width="2" height="2"/><rect x="693" y="453" width="2" height="2"/><rect x="689" y="447" width="2" height="2"/><rect x="691" y="445" width="2" height="2"/><rect x="701" y="468" width="2" height="2"/><rect x="698" y="461" width="2" height="2"/><rect x="689" y="450" width="2" height="2"/><rect x="698" y="469" width="2" height="2"/><rect x="696" y="471" width="2" height="2"/><rect x="690" y="462" width="2" height="2"/><rect x="691" y="468" width="2" height="2"/><rect x="697" y="459" width="2" height="2"/><rect x="691" y="448" width="2" height="2"/><rect x="694" y="456" width="2" height="2"/><rect x="692" y="454" width="2" height="2"/><rect x="701" y="468" width="2" height="2"/><rect x="702" y="469" width="2" height="2"/><rect x="690" y="450" width="2" height="2"/><rect x="692" y="456" width="2" height="2"/><rect x="699" y="459" width="2" height="2"/><rect x="701" y="465" width="2" height="2"/><rect x="699" y="468" width="2" height="2"/><rect x="693" y="469" width="2" height="2"/><rect x="701" y="459" width="2" height="2"/><rect x="699" y="472" width="2" height="2"/><rect x="700" y="462" width="2" height="2"/><rect x="696" y="467" width="2" height="2"/><rect x="692" y="454" width="2" height="2"/><rect x="693" y="460" width="2" height="2"/><rect x="691" y="470" width="2" height="2"/><rect x="700" y="449" width="2" height="2"/><rect x="694" y="456" width="2" height="2"/><rect x="697" y="457" width="2" height="2"/><rect x="694" y="458" width="2" height="2"/><rect x="699" y="450" width="2" height="2"/><rect x="694" y="454" width="2" height="2"/><rect x="698" y="471" width="2" height="2"/><rect x="695" y="460" width="2" height="2"/><rect x="699" y="465" width="2" height="2"/><rect x="698" y="441" width="2" height="2"/><rect x="692" y="443" width="2" height="2"/><rect x="693" y="444" width="2" height="2"/><rect x="699" y="440" width="2" height="2"/><rect x="749" y="442" width="2" height="2"/><rect x="755" y="463" width="2" height="2"/><rect x="749" y="461" width="2" height="2"/><rect x="751" y="458" width="2" height="2"/><rect x="754" y="465" width="2" height="2"/><rect x="750" y="447" width="2" height="2"/><rect x="745" y="454" width="2" height="2"/><rect x="751" y="452" width="2" height="2"/><rect x="748" y="463" width="2" height="2"/><rect x="748" y="450" width="2" height="2"/><rect x="756" y="444" width="2" height="2"/><rect x="747" y="460" width="2" height="2"/><rect x="747" y="469" width="2" height="2"/><rect x="747" y="449" width="2" height="2"/><rect x="749" y="455" width="2" height="2"/><rect x="745" y="458" width="2" height="2"/><rect x="747" y="462" width="2" height="2"/><rect x="756" y="447" width="2" height="2"/><rect x="748" y="466" width="2" height="2"/><rect x="747" y="456" width="2" height="2"/><rect x="747" y="453" width="2" height="2"/><rect x="756" y="454" width="2" height="2"/><rect x="746" y="456" width="2" height="2"/><rect x="745" y="461" width="2" height="2"/><rect x="753" y="443" width="2" height="2"/><rect x="748" y="445" width="2" height="2"/><rect x="745" y="443" width="2" height="2"/><rect x="746" y="448" width="2" height="2"/><rect x="748" y="446" width="2" height="2"/><rect x="748" y="453" width="2" height="2"/><rect x="755" y="470" width="2" height="2"/><rect x="756" y="442" width="2" height="2"/><rect x="746" y="459" width="2" height="2"/><rect x="755" y="470" width="2" height="2"/><rect x="755" y="446" width="2" height="2"/><rect x="745" y="450" width="2" height="2"/><rect x="754" y="465" width="2" height="2"/><rect x="752" y="457" width="2" height="2"/><rect x="747" y="445" width="2" height="2"/><rect x="751" y="459" width="2" height="2"/><rect x="753" y="445" width="2" height="2"/><rect x="753" y="443" width="2" height="2"/><rect x="752" y="453" width="2" height="2"/><rect x="752" y="467" width="2" height="2"/><rect x="753" y="463" width="2" height="2"/><rect x="753" y="454" width="2" height="2"/><rect x="748" y="463" width="2" height="2"/><rect x="745" y="466" width="2" height="2"/><rect x="745" y="457" width="2" height="2"/><rect x="754" y="451" width="2" height="2"/><rect x="752" y="457" width="2" height="2"/><rect x="747" y="455" width="2" height="2"/><rect x="752" y="451" width="2" height="2"/><rect x="749" y="461" width="2" height="2"/><rect x="747" y="458" width="2" height="2"/><rect x="747" y="462" width="2" height="2"/><rect x="753" y="455" width="2" height="2"/><rect x="747" y="458" width="2" height="2"/><rect x="753" y="457" width="2" height="2"/><rect x="748" y="454" width="2" height="2"/><rect x="750" y="454" width="2" height="2"/><rect x="747" y="456" width="2" height="2"/><rect x="747" y="455" width="2" height="2"/><rect x="749" y="456" width="2" height="2"/><rect x="751" y="451" width="2" height="2"/><rect x="752" y="451" width="2" height="2"/><rect x="748" y="459" width="2" height="2"/><rect x="751" y="453" width="2" height="2"/><rect x="748" y="461" width="2" height="2"/><rect x="751" y="453" width="2" height="2"/><rect x="736" y="487" width="2" height="2"/><rect x="739" y="493" width="2" height="2"/><rect x="734" y="488" width="2" height="2"/><rect x="731" y="493" width="2" height="2"/><rect x="733" y="487" width="2" height="2"/><rect x="732" y="487" width="2" height="2"/><rect x="739" y="493" width="2" height="2"/><rect x="736" y="485" width="2" height="2"/><rect x="742" y="485" width="2" height="2"/><rect x="733" y="493" width="2" height="2"/><rect x="735" y="483" width="2" height="2"/><rect x="734" y="494" width="2" height="2"/><rect x="742" y="494" width="2" height="2"/><rect x="741" y="496" width="2" height="2"/><rect x="738" y="491" width="2" height="2"/><rect x="732" y="486" width="2" height="2"/><rect x="739" y="485" width="2" height="2"/><rect x="735" y="482" width="2" height="2"/><rect x="736" y="495" width="2" height="2"/><rect x="735" y="494" width="2" height="2"/><rect x="732" y="482" width="2" height="2"/><rect x="732" y="486" width="2" height="2"/><rect x="737" y="487" width="2" height="2"/><rect x="739" y="482" width="2" height="2"/><rect x="734" y="487" width="2" height="2"/><rect x="741" y="482" width="2" height="2"/><rect x="736" y="487" width="2" height="2"/><rect x="737" y="488" width="2" height="2"/><rect x="732" y="484" width="2" height="2"/><rect x="739" y="484" width="2" height="2"/><rect x="738" y="488" width="2" height="2"/><rect x="739" y="487" width="2" height="2"/><rect x="739" y="490" width="2" height="2"/><rect x="737" y="492" width="2" height="2"/><rect x="734" y="495" width="2" height="2"/><rect x="740" y="490" width="2" height="2"/><rect x="738" y="495" width="2" height="2"/><rect x="735" y="491" width="2" height="2"/><rect x="737" y="488" width="2" height="2"/><rect x="738" y="488" width="2" height="2"/><rect x="741" y="492" width="2" height="2"/><rect x="734" y="492" width="2" height="2"/><rect x="740" y="492" width="2" height="2"/><rect x="736" y="492" width="2" height="2"/><rect x="734" y="489" width="2" height="2"/><rect x="736" y="495" width="2" height="2"/><rect x="734" y="487" width="2" height="2"/><rect x="735" y="495" width="2" height="2"/><rect x="740" y="493" width="2" height="2"/><rect x="736" y="494" width="2" height="2"/><rect x="736" y="488" width="2" height="2"/><rect x="734" y="488" width="2" height="2"/><rect x="734" y="494" width="2" height="2"/><rect x="738" y="492" width="2" height="2"/><rect x="736" y="489" width="2" height="2"/><rect x="624" y="459" width="2" height="2"/><rect x="626" y="454" width="2" height="2"/><rect x="626" y="455" width="2" height="2"/><rect x="626" y="459" width="2" height="2"/><rect x="625" y="453" width="2" height="2"/><rect x="625" y="458" width="2" height="2"/><rect x="769" y="489" width="2" height="2"/><rect x="770" y="484" width="2" height="2"/><rect x="768" y="483" width="2" height="2"/><rect x="765" y="486" width="2" height="2"/><rect x="770" y="487" width="2" height="2"/><rect x="770" y="489" width="2" height="2"/><rect x="767" y="486" width="2" height="2"/><rect x="768" y="486" width="2" height="2"/><rect x="768" y="483" width="2" height="2"/><rect x="769" y="484" width="2" height="2"/><rect x="771" y="486" width="2" height="2"/><rect x="767" y="484" width="2" height="2"/><rect x="770" y="483" width="2" height="2"/><rect x="766" y="489" width="2" height="2"/><rect x="770" y="489" width="2" height="2"/><rect x="770" y="490" width="2" height="2"/><rect x="766" y="486" width="2" height="2"/><rect x="765" y="488" width="2" height="2"/><rect x="771" y="485" width="2" height="2"/><rect x="766" y="487" width="2" height="2"/><rect x="757" y="528" width="2" height="2"/><rect x="759" y="530" width="2" height="2"/><rect x="757" y="528" width="2" height="2"/><rect x="755" y="530" width="2" height="2"/><rect x="755" y="529" width="2" height="2"/><rect x="756" y="529" width="2" height="2"/><rect x="757" y="527" width="2" height="2"/><rect x="758" y="527" width="2" height="2"/><rect x="756" y="530" width="2" height="2"/><rect x="758" y="530" width="2" height="2"/><rect x="758" y="527" width="2" height="2"/><rect x="757" y="530" width="2" height="2"/><rect x="757" y="527" width="2" height="2"/><rect x="759" y="527" width="2" height="2"/><rect x="757" y="528" width="2" height="2"/><rect x="756" y="526" width="2" height="2"/><rect x="763" y="530" width="2" height="2"/><rect x="762" y="528" width="2" height="2"/><rect x="762" y="528" width="2" height="2"/><rect x="765" y="530" width="2" height="2"/><rect x="764" y="530" width="2" height="2"/><rect x="762" y="530" width="2" height="2"/><rect x="762" y="531" width="2" height="2"/><rect x="764" y="529" width="2" height="2"/><rect x="765" y="527" width="2" height="2"/><rect x="767" y="530" width="2" height="2"/><rect x="762" y="528" width="2" height="2"/><rect x="764" y="529" width="2" height="2"/><rect x="762" y="530" width="2" height="2"/><rect x="760" y="527" width="2" height="2"/><rect x="766" y="530" width="2" height="2"/><rect x="761" y="531" width="2" height="2"/><rect x="765" y="525" width="2" height="2"/><rect x="764" y="526" width="2" height="2"/><rect x="767" y="526" width="2" height="2"/><rect x="767" y="529" width="2" height="2"/></g>
<line x1="125" y1="496.0" x2="900" y2="498.1" stroke="#00ff00" stroke-width="1.39"/>
<path d="M125.5 562.5h5.56M900.5 562.5h-5.56M125.5 542.5h5.56M900.5 542.5h-5.56M125.5 522.5h5.56M900.5 522.5h-5.56M125.5 502.5h5.56M900.5 502.5h-5.56M125.5 483.5h5.56M900.5 483.5h-5.56M125.5 463.5h5.56M900.5 463.5h-5.56M125.5 443.5h5.56M900.5 443.5h-5.56M125.5 423.5h5.56M900.5 423.5h-5.56M236.5 562.5v-5.56M236.5 404.5v5.56M362.5 562.5v-5.56M362.5 404.5v5.56M487.5 562.5v-5.56M487.5 404.5v5.56M613.5 562.5v-5.56M613.5 404.5v5.56M739.5 562.5v-5.56M739.5 404.5v5.56M865.5 562.5v-5.56M865.5 404.5v5.56" stroke="#000" stroke-width="0.8" fill="none"/>
<rect x="125.5" y="404.5" width="775.0" height="158.0" fill="none" stroke="#000" stroke-width="1.39"/>
<text x="119.4" y="567.0" font-size="12.5" text-anchor="end">0</text>
<text x="119.4" y="547.0" font-size="12.5" text-anchor="end">2</text>
<text x="119.4" y="527.0" font-size="12.5" text-anchor="end">4</text>
<text x="119.4" y="507.0" font-size="12.5" text-anchor="end">6</text>
<text x="119.4" y="488.0" font-size="12.5" text-anchor="end">8</text>
<text x="119.4" y="468.0" font-size="12.5" text-anchor="end">10</text>
<text x="119.4" y="448.0" font-size="12.5" text-anchor="end">12</text>
<text x="119.4" y="428.0" font-size="12.5" text-anchor="end">14</text>
<text transform="translate(97.8 483.5) rotate(-90)" font-size="12.5" text-anchor="middle">cnts/s</text>
<rect x="131.5" y="410.5" width="175.0" height="23.0" fill="#fff" stroke="#707070" stroke-width="1"/>
<rect x="139" y="420" width="2" height="2" fill="#ff0000" fill-opacity="0.56"/><rect x="157" y="420" width="2" height="2" fill="#ff0000" fill-opacity="0.56"/>
<text x="170.9" y="424.9" font-size="12.5" textLength="34.5" lengthAdjust="spacingAndGlyphs">CCD7</text>
<text x="210.1" y="424.9" font-size="12.5" textLength="38.6" lengthAdjust="spacingAndGlyphs">Slope:</text>
<text x="253.1" y="424.9" font-size="12.5" textLength="47.8" lengthAdjust="spacingAndGlyphs">-0.0077</text>
<text x="236.3" y="576" font-size="12.5" text-anchor="middle" textLength="30.2" lengthAdjust="spacingAndGlyphs">2755</text>
<text x="362.3" y="576" font-size="12.5" text-anchor="middle" textLength="30.2" lengthAdjust="spacingAndGlyphs">2760</text>
<text x="487.3" y="576" font-size="12.5" text-anchor="middle" textLength="30.2" lengthAdjust="spacingAndGlyphs">2765</text>
<text x="613.3" y="576" font-size="12.5" text-anchor="middle" textLength="30.2" lengthAdjust="spacingAndGlyphs">2770</text>
<text x="739.3" y="576" font-size="12.5" text-anchor="middle" textLength="30.2" lengthAdjust="spacingAndGlyphs">2775</text>
<text x="865.3" y="576" font-size="12.5" text-anchor="middle" textLength="30.2" lengthAdjust="spacingAndGlyphs">2780</text>
<text x="513.4" y="592.4" font-size="12.5" text-anchor="middle" textLength="74.5" lengthAdjust="spacingAndGlyphs">Time (DOM)</text>
</svg></body></html>
